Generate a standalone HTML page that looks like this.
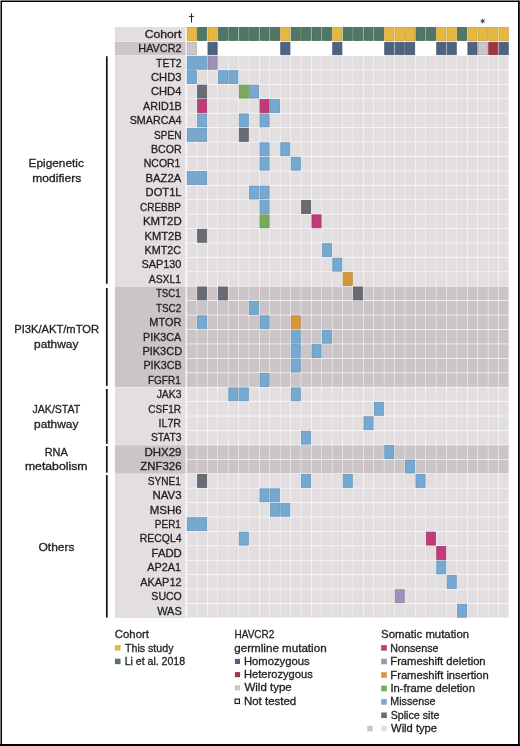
<!DOCTYPE html>
<html><head><meta charset="utf-8"><style>
html,body{margin:0;padding:0;background:#fff;width:520px;height:746px;overflow:hidden}
svg{display:block;will-change:transform}
text{font-family:"Liberation Sans",sans-serif;font-size:11.3px;fill:#231f20;stroke:#231f20;stroke-width:0.32px}
</style></head><body>
<svg width="520" height="746" viewBox="0 0 520 746">
<rect width="520" height="746" fill="#fff"/>
<rect x="114.9" y="27" width="70.7" height="14.5" fill="#e3dfe1"/>
<rect x="114.9" y="41.82" width="70.7" height="13.62" fill="#cbc5c8"/>
<rect x="114.9" y="55.84" width="70.7" height="230.42" fill="#e3dfe1"/>
<rect x="114.9" y="286.56" width="70.7" height="100.64" fill="#cbc5c8"/>
<rect x="114.9" y="387.5" width="70.7" height="57.38" fill="#e3dfe1"/>
<rect x="114.9" y="445.18" width="70.7" height="28.54" fill="#cbc5c8"/>
<rect x="114.9" y="474.02" width="70.7" height="143.9" fill="#e3dfe1"/>
<rect x="187.2" y="27.4" width="9.15" height="13" fill="#e6b741" stroke="#caa139" stroke-width="0.8"/>
<rect x="187.2" y="42.27" width="9.15" height="12.45" fill="#cbc5c8" stroke="#b2adb0" stroke-width="0.8"/>
<rect x="197.6" y="27.4" width="9.15" height="13" fill="#507664" stroke="#466758" stroke-width="0.8"/>
<rect x="207.99" y="27.4" width="9.15" height="13" fill="#e6b741" stroke="#caa139" stroke-width="0.8"/>
<rect x="207.99" y="42.27" width="9.15" height="12.45" fill="#4e6382" stroke="#445772" stroke-width="0.8"/>
<rect x="218.39" y="27.4" width="9.15" height="13" fill="#507664" stroke="#466758" stroke-width="0.8"/>
<rect x="228.79" y="27.4" width="9.15" height="13" fill="#507664" stroke="#466758" stroke-width="0.8"/>
<rect x="239.19" y="27.4" width="9.15" height="13" fill="#507664" stroke="#466758" stroke-width="0.8"/>
<rect x="249.58" y="27.4" width="9.15" height="13" fill="#507664" stroke="#466758" stroke-width="0.8"/>
<rect x="259.98" y="27.4" width="9.15" height="13" fill="#507664" stroke="#466758" stroke-width="0.8"/>
<rect x="270.38" y="27.4" width="9.15" height="13" fill="#507664" stroke="#466758" stroke-width="0.8"/>
<rect x="280.77" y="27.4" width="9.15" height="13" fill="#e6b741" stroke="#caa139" stroke-width="0.8"/>
<rect x="280.77" y="42.27" width="9.15" height="12.45" fill="#4e6382" stroke="#445772" stroke-width="0.8"/>
<rect x="291.17" y="27.4" width="9.15" height="13" fill="#507664" stroke="#466758" stroke-width="0.8"/>
<rect x="301.57" y="27.4" width="9.15" height="13" fill="#507664" stroke="#466758" stroke-width="0.8"/>
<rect x="311.96" y="27.4" width="9.15" height="13" fill="#507664" stroke="#466758" stroke-width="0.8"/>
<rect x="322.36" y="27.4" width="9.15" height="13" fill="#507664" stroke="#466758" stroke-width="0.8"/>
<rect x="332.76" y="27.4" width="9.15" height="13" fill="#e6b741" stroke="#caa139" stroke-width="0.8"/>
<rect x="332.76" y="42.27" width="9.15" height="12.45" fill="#4e6382" stroke="#445772" stroke-width="0.8"/>
<rect x="343.15" y="27.4" width="9.15" height="13" fill="#507664" stroke="#466758" stroke-width="0.8"/>
<rect x="353.55" y="27.4" width="9.15" height="13" fill="#507664" stroke="#466758" stroke-width="0.8"/>
<rect x="363.95" y="27.4" width="9.15" height="13" fill="#507664" stroke="#466758" stroke-width="0.8"/>
<rect x="374.35" y="27.4" width="9.15" height="13" fill="#507664" stroke="#466758" stroke-width="0.8"/>
<rect x="384.74" y="27.4" width="9.15" height="13" fill="#e6b741" stroke="#caa139" stroke-width="0.8"/>
<rect x="384.74" y="42.27" width="9.15" height="12.45" fill="#4e6382" stroke="#445772" stroke-width="0.8"/>
<rect x="395.14" y="27.4" width="9.15" height="13" fill="#e6b741" stroke="#caa139" stroke-width="0.8"/>
<rect x="395.14" y="42.27" width="9.15" height="12.45" fill="#4e6382" stroke="#445772" stroke-width="0.8"/>
<rect x="405.54" y="27.4" width="9.15" height="13" fill="#e6b741" stroke="#caa139" stroke-width="0.8"/>
<rect x="405.54" y="42.27" width="9.15" height="12.45" fill="#4e6382" stroke="#445772" stroke-width="0.8"/>
<rect x="415.93" y="27.4" width="9.15" height="13" fill="#507664" stroke="#466758" stroke-width="0.8"/>
<rect x="426.33" y="27.4" width="9.15" height="13" fill="#507664" stroke="#466758" stroke-width="0.8"/>
<rect x="436.73" y="27.4" width="9.15" height="13" fill="#e6b741" stroke="#caa139" stroke-width="0.8"/>
<rect x="436.73" y="42.27" width="9.15" height="12.45" fill="#4e6382" stroke="#445772" stroke-width="0.8"/>
<rect x="447.12" y="27.4" width="9.15" height="13" fill="#e6b741" stroke="#caa139" stroke-width="0.8"/>
<rect x="447.12" y="42.27" width="9.15" height="12.45" fill="#4e6382" stroke="#445772" stroke-width="0.8"/>
<rect x="457.52" y="27.4" width="9.15" height="13" fill="#507664" stroke="#466758" stroke-width="0.8"/>
<rect x="467.92" y="27.4" width="9.15" height="13" fill="#e6b741" stroke="#caa139" stroke-width="0.8"/>
<rect x="467.92" y="42.27" width="9.15" height="12.45" fill="#4e6382" stroke="#445772" stroke-width="0.8"/>
<rect x="478.32" y="27.4" width="9.15" height="13" fill="#e6b741" stroke="#caa139" stroke-width="0.8"/>
<rect x="478.32" y="42.27" width="9.15" height="12.45" fill="#cbc5c8" stroke="#b2adb0" stroke-width="0.8"/>
<rect x="488.71" y="27.4" width="9.15" height="13" fill="#e6b741" stroke="#caa139" stroke-width="0.8"/>
<rect x="488.71" y="42.27" width="9.15" height="12.45" fill="#a13543" stroke="#8d2e3a" stroke-width="0.8"/>
<rect x="499.11" y="27.4" width="9.15" height="13" fill="#e6b741" stroke="#caa139" stroke-width="0.8"/>
<rect x="499.11" y="42.27" width="9.15" height="12.45" fill="#4e6382" stroke="#445772" stroke-width="0.8"/>
<rect x="187.2" y="56.24" width="9.15" height="13" fill="#76a9d1" stroke="#6794b7" stroke-width="0.8"/>
<rect x="197.6" y="56.24" width="9.15" height="13" fill="#76a9d1" stroke="#6794b7" stroke-width="0.8"/>
<rect x="207.99" y="56.24" width="9.15" height="13" fill="#9c93b6" stroke="#8981a0" stroke-width="0.8"/>
<rect x="217.99" y="55.84" width="9.95" height="13.8" fill="#e3dfe1"/>
<rect x="228.39" y="55.84" width="9.95" height="13.8" fill="#e3dfe1"/>
<rect x="238.79" y="55.84" width="9.95" height="13.8" fill="#e3dfe1"/>
<rect x="249.18" y="55.84" width="9.95" height="13.8" fill="#e3dfe1"/>
<rect x="259.58" y="55.84" width="9.95" height="13.8" fill="#e3dfe1"/>
<rect x="269.98" y="55.84" width="9.95" height="13.8" fill="#e3dfe1"/>
<rect x="280.37" y="55.84" width="9.95" height="13.8" fill="#e3dfe1"/>
<rect x="290.77" y="55.84" width="9.95" height="13.8" fill="#e3dfe1"/>
<rect x="301.17" y="55.84" width="9.95" height="13.8" fill="#e3dfe1"/>
<rect x="311.56" y="55.84" width="9.95" height="13.8" fill="#e3dfe1"/>
<rect x="321.96" y="55.84" width="9.95" height="13.8" fill="#e3dfe1"/>
<rect x="332.36" y="55.84" width="9.95" height="13.8" fill="#e3dfe1"/>
<rect x="342.75" y="55.84" width="9.95" height="13.8" fill="#e3dfe1"/>
<rect x="353.15" y="55.84" width="9.95" height="13.8" fill="#e3dfe1"/>
<rect x="363.55" y="55.84" width="9.95" height="13.8" fill="#e3dfe1"/>
<rect x="373.95" y="55.84" width="9.95" height="13.8" fill="#e3dfe1"/>
<rect x="384.34" y="55.84" width="9.95" height="13.8" fill="#e3dfe1"/>
<rect x="394.74" y="55.84" width="9.95" height="13.8" fill="#e3dfe1"/>
<rect x="405.14" y="55.84" width="9.95" height="13.8" fill="#e3dfe1"/>
<rect x="415.53" y="55.84" width="9.95" height="13.8" fill="#e3dfe1"/>
<rect x="425.93" y="55.84" width="9.95" height="13.8" fill="#e3dfe1"/>
<rect x="436.33" y="55.84" width="9.95" height="13.8" fill="#e3dfe1"/>
<rect x="446.73" y="55.84" width="9.95" height="13.8" fill="#e3dfe1"/>
<rect x="457.12" y="55.84" width="9.95" height="13.8" fill="#e3dfe1"/>
<rect x="467.52" y="55.84" width="9.95" height="13.8" fill="#e3dfe1"/>
<rect x="477.92" y="55.84" width="9.95" height="13.8" fill="#e3dfe1"/>
<rect x="488.31" y="55.84" width="9.95" height="13.8" fill="#e3dfe1"/>
<rect x="498.71" y="55.84" width="9.95" height="13.8" fill="#e3dfe1"/>
<rect x="187.2" y="70.66" width="9.15" height="13" fill="#76a9d1" stroke="#6794b7" stroke-width="0.8"/>
<rect x="197.2" y="70.26" width="9.95" height="13.8" fill="#e3dfe1"/>
<rect x="207.59" y="70.26" width="9.95" height="13.8" fill="#e3dfe1"/>
<rect x="218.39" y="70.66" width="9.15" height="13" fill="#76a9d1" stroke="#6794b7" stroke-width="0.8"/>
<rect x="228.79" y="70.66" width="9.15" height="13" fill="#76a9d1" stroke="#6794b7" stroke-width="0.8"/>
<rect x="238.79" y="70.26" width="9.95" height="13.8" fill="#e3dfe1"/>
<rect x="249.18" y="70.26" width="9.95" height="13.8" fill="#e3dfe1"/>
<rect x="259.58" y="70.26" width="9.95" height="13.8" fill="#e3dfe1"/>
<rect x="269.98" y="70.26" width="9.95" height="13.8" fill="#e3dfe1"/>
<rect x="280.37" y="70.26" width="9.95" height="13.8" fill="#e3dfe1"/>
<rect x="290.77" y="70.26" width="9.95" height="13.8" fill="#e3dfe1"/>
<rect x="301.17" y="70.26" width="9.95" height="13.8" fill="#e3dfe1"/>
<rect x="311.56" y="70.26" width="9.95" height="13.8" fill="#e3dfe1"/>
<rect x="321.96" y="70.26" width="9.95" height="13.8" fill="#e3dfe1"/>
<rect x="332.36" y="70.26" width="9.95" height="13.8" fill="#e3dfe1"/>
<rect x="342.75" y="70.26" width="9.95" height="13.8" fill="#e3dfe1"/>
<rect x="353.15" y="70.26" width="9.95" height="13.8" fill="#e3dfe1"/>
<rect x="363.55" y="70.26" width="9.95" height="13.8" fill="#e3dfe1"/>
<rect x="373.95" y="70.26" width="9.95" height="13.8" fill="#e3dfe1"/>
<rect x="384.34" y="70.26" width="9.95" height="13.8" fill="#e3dfe1"/>
<rect x="394.74" y="70.26" width="9.95" height="13.8" fill="#e3dfe1"/>
<rect x="405.14" y="70.26" width="9.95" height="13.8" fill="#e3dfe1"/>
<rect x="415.53" y="70.26" width="9.95" height="13.8" fill="#e3dfe1"/>
<rect x="425.93" y="70.26" width="9.95" height="13.8" fill="#e3dfe1"/>
<rect x="436.33" y="70.26" width="9.95" height="13.8" fill="#e3dfe1"/>
<rect x="446.73" y="70.26" width="9.95" height="13.8" fill="#e3dfe1"/>
<rect x="457.12" y="70.26" width="9.95" height="13.8" fill="#e3dfe1"/>
<rect x="467.52" y="70.26" width="9.95" height="13.8" fill="#e3dfe1"/>
<rect x="477.92" y="70.26" width="9.95" height="13.8" fill="#e3dfe1"/>
<rect x="488.31" y="70.26" width="9.95" height="13.8" fill="#e3dfe1"/>
<rect x="498.71" y="70.26" width="9.95" height="13.8" fill="#e3dfe1"/>
<rect x="186.8" y="84.68" width="9.95" height="13.8" fill="#e3dfe1"/>
<rect x="197.6" y="85.08" width="9.15" height="13" fill="#686b74" stroke="#5b5e66" stroke-width="0.8"/>
<rect x="207.59" y="84.68" width="9.95" height="13.8" fill="#e3dfe1"/>
<rect x="217.99" y="84.68" width="9.95" height="13.8" fill="#e3dfe1"/>
<rect x="228.39" y="84.68" width="9.95" height="13.8" fill="#e3dfe1"/>
<rect x="239.19" y="85.08" width="9.15" height="13" fill="#7aa95b" stroke="#6b9450" stroke-width="0.8"/>
<rect x="249.58" y="85.08" width="9.15" height="13" fill="#76a9d1" stroke="#6794b7" stroke-width="0.8"/>
<rect x="259.58" y="84.68" width="9.95" height="13.8" fill="#e3dfe1"/>
<rect x="269.98" y="84.68" width="9.95" height="13.8" fill="#e3dfe1"/>
<rect x="280.37" y="84.68" width="9.95" height="13.8" fill="#e3dfe1"/>
<rect x="290.77" y="84.68" width="9.95" height="13.8" fill="#e3dfe1"/>
<rect x="301.17" y="84.68" width="9.95" height="13.8" fill="#e3dfe1"/>
<rect x="311.56" y="84.68" width="9.95" height="13.8" fill="#e3dfe1"/>
<rect x="321.96" y="84.68" width="9.95" height="13.8" fill="#e3dfe1"/>
<rect x="332.36" y="84.68" width="9.95" height="13.8" fill="#e3dfe1"/>
<rect x="342.75" y="84.68" width="9.95" height="13.8" fill="#e3dfe1"/>
<rect x="353.15" y="84.68" width="9.95" height="13.8" fill="#e3dfe1"/>
<rect x="363.55" y="84.68" width="9.95" height="13.8" fill="#e3dfe1"/>
<rect x="373.95" y="84.68" width="9.95" height="13.8" fill="#e3dfe1"/>
<rect x="384.34" y="84.68" width="9.95" height="13.8" fill="#e3dfe1"/>
<rect x="394.74" y="84.68" width="9.95" height="13.8" fill="#e3dfe1"/>
<rect x="405.14" y="84.68" width="9.95" height="13.8" fill="#e3dfe1"/>
<rect x="415.53" y="84.68" width="9.95" height="13.8" fill="#e3dfe1"/>
<rect x="425.93" y="84.68" width="9.95" height="13.8" fill="#e3dfe1"/>
<rect x="436.33" y="84.68" width="9.95" height="13.8" fill="#e3dfe1"/>
<rect x="446.73" y="84.68" width="9.95" height="13.8" fill="#e3dfe1"/>
<rect x="457.12" y="84.68" width="9.95" height="13.8" fill="#e3dfe1"/>
<rect x="467.52" y="84.68" width="9.95" height="13.8" fill="#e3dfe1"/>
<rect x="477.92" y="84.68" width="9.95" height="13.8" fill="#e3dfe1"/>
<rect x="488.31" y="84.68" width="9.95" height="13.8" fill="#e3dfe1"/>
<rect x="498.71" y="84.68" width="9.95" height="13.8" fill="#e3dfe1"/>
<rect x="186.8" y="99.1" width="9.95" height="13.8" fill="#e3dfe1"/>
<rect x="197.6" y="99.5" width="9.15" height="13" fill="#c13b7b" stroke="#a9336c" stroke-width="0.8"/>
<rect x="207.59" y="99.1" width="9.95" height="13.8" fill="#e3dfe1"/>
<rect x="217.99" y="99.1" width="9.95" height="13.8" fill="#e3dfe1"/>
<rect x="228.39" y="99.1" width="9.95" height="13.8" fill="#e3dfe1"/>
<rect x="238.79" y="99.1" width="9.95" height="13.8" fill="#e3dfe1"/>
<rect x="249.18" y="99.1" width="9.95" height="13.8" fill="#e3dfe1"/>
<rect x="259.98" y="99.5" width="9.15" height="13" fill="#c13b7b" stroke="#a9336c" stroke-width="0.8"/>
<rect x="270.38" y="99.5" width="9.15" height="13" fill="#76a9d1" stroke="#6794b7" stroke-width="0.8"/>
<rect x="280.37" y="99.1" width="9.95" height="13.8" fill="#e3dfe1"/>
<rect x="290.77" y="99.1" width="9.95" height="13.8" fill="#e3dfe1"/>
<rect x="301.17" y="99.1" width="9.95" height="13.8" fill="#e3dfe1"/>
<rect x="311.56" y="99.1" width="9.95" height="13.8" fill="#e3dfe1"/>
<rect x="321.96" y="99.1" width="9.95" height="13.8" fill="#e3dfe1"/>
<rect x="332.36" y="99.1" width="9.95" height="13.8" fill="#e3dfe1"/>
<rect x="342.75" y="99.1" width="9.95" height="13.8" fill="#e3dfe1"/>
<rect x="353.15" y="99.1" width="9.95" height="13.8" fill="#e3dfe1"/>
<rect x="363.55" y="99.1" width="9.95" height="13.8" fill="#e3dfe1"/>
<rect x="373.95" y="99.1" width="9.95" height="13.8" fill="#e3dfe1"/>
<rect x="384.34" y="99.1" width="9.95" height="13.8" fill="#e3dfe1"/>
<rect x="394.74" y="99.1" width="9.95" height="13.8" fill="#e3dfe1"/>
<rect x="405.14" y="99.1" width="9.95" height="13.8" fill="#e3dfe1"/>
<rect x="415.53" y="99.1" width="9.95" height="13.8" fill="#e3dfe1"/>
<rect x="425.93" y="99.1" width="9.95" height="13.8" fill="#e3dfe1"/>
<rect x="436.33" y="99.1" width="9.95" height="13.8" fill="#e3dfe1"/>
<rect x="446.73" y="99.1" width="9.95" height="13.8" fill="#e3dfe1"/>
<rect x="457.12" y="99.1" width="9.95" height="13.8" fill="#e3dfe1"/>
<rect x="467.52" y="99.1" width="9.95" height="13.8" fill="#e3dfe1"/>
<rect x="477.92" y="99.1" width="9.95" height="13.8" fill="#e3dfe1"/>
<rect x="488.31" y="99.1" width="9.95" height="13.8" fill="#e3dfe1"/>
<rect x="498.71" y="99.1" width="9.95" height="13.8" fill="#e3dfe1"/>
<rect x="186.8" y="113.52" width="9.95" height="13.8" fill="#e3dfe1"/>
<rect x="197.6" y="113.92" width="9.15" height="13" fill="#76a9d1" stroke="#6794b7" stroke-width="0.8"/>
<rect x="207.59" y="113.52" width="9.95" height="13.8" fill="#e3dfe1"/>
<rect x="217.99" y="113.52" width="9.95" height="13.8" fill="#e3dfe1"/>
<rect x="228.39" y="113.52" width="9.95" height="13.8" fill="#e3dfe1"/>
<rect x="239.19" y="113.92" width="9.15" height="13" fill="#76a9d1" stroke="#6794b7" stroke-width="0.8"/>
<rect x="249.18" y="113.52" width="9.95" height="13.8" fill="#e3dfe1"/>
<rect x="259.98" y="113.92" width="9.15" height="13" fill="#76a9d1" stroke="#6794b7" stroke-width="0.8"/>
<rect x="269.98" y="113.52" width="9.95" height="13.8" fill="#e3dfe1"/>
<rect x="280.37" y="113.52" width="9.95" height="13.8" fill="#e3dfe1"/>
<rect x="290.77" y="113.52" width="9.95" height="13.8" fill="#e3dfe1"/>
<rect x="301.17" y="113.52" width="9.95" height="13.8" fill="#e3dfe1"/>
<rect x="311.56" y="113.52" width="9.95" height="13.8" fill="#e3dfe1"/>
<rect x="321.96" y="113.52" width="9.95" height="13.8" fill="#e3dfe1"/>
<rect x="332.36" y="113.52" width="9.95" height="13.8" fill="#e3dfe1"/>
<rect x="342.75" y="113.52" width="9.95" height="13.8" fill="#e3dfe1"/>
<rect x="353.15" y="113.52" width="9.95" height="13.8" fill="#e3dfe1"/>
<rect x="363.55" y="113.52" width="9.95" height="13.8" fill="#e3dfe1"/>
<rect x="373.95" y="113.52" width="9.95" height="13.8" fill="#e3dfe1"/>
<rect x="384.34" y="113.52" width="9.95" height="13.8" fill="#e3dfe1"/>
<rect x="394.74" y="113.52" width="9.95" height="13.8" fill="#e3dfe1"/>
<rect x="405.14" y="113.52" width="9.95" height="13.8" fill="#e3dfe1"/>
<rect x="415.53" y="113.52" width="9.95" height="13.8" fill="#e3dfe1"/>
<rect x="425.93" y="113.52" width="9.95" height="13.8" fill="#e3dfe1"/>
<rect x="436.33" y="113.52" width="9.95" height="13.8" fill="#e3dfe1"/>
<rect x="446.73" y="113.52" width="9.95" height="13.8" fill="#e3dfe1"/>
<rect x="457.12" y="113.52" width="9.95" height="13.8" fill="#e3dfe1"/>
<rect x="467.52" y="113.52" width="9.95" height="13.8" fill="#e3dfe1"/>
<rect x="477.92" y="113.52" width="9.95" height="13.8" fill="#e3dfe1"/>
<rect x="488.31" y="113.52" width="9.95" height="13.8" fill="#e3dfe1"/>
<rect x="498.71" y="113.52" width="9.95" height="13.8" fill="#e3dfe1"/>
<rect x="187.2" y="128.34" width="9.15" height="13" fill="#76a9d1" stroke="#6794b7" stroke-width="0.8"/>
<rect x="197.6" y="128.34" width="9.15" height="13" fill="#76a9d1" stroke="#6794b7" stroke-width="0.8"/>
<rect x="207.59" y="127.94" width="9.95" height="13.8" fill="#e3dfe1"/>
<rect x="217.99" y="127.94" width="9.95" height="13.8" fill="#e3dfe1"/>
<rect x="228.39" y="127.94" width="9.95" height="13.8" fill="#e3dfe1"/>
<rect x="239.19" y="128.34" width="9.15" height="13" fill="#686b74" stroke="#5b5e66" stroke-width="0.8"/>
<rect x="249.18" y="127.94" width="9.95" height="13.8" fill="#e3dfe1"/>
<rect x="259.58" y="127.94" width="9.95" height="13.8" fill="#e3dfe1"/>
<rect x="269.98" y="127.94" width="9.95" height="13.8" fill="#e3dfe1"/>
<rect x="280.37" y="127.94" width="9.95" height="13.8" fill="#e3dfe1"/>
<rect x="290.77" y="127.94" width="9.95" height="13.8" fill="#e3dfe1"/>
<rect x="301.17" y="127.94" width="9.95" height="13.8" fill="#e3dfe1"/>
<rect x="311.56" y="127.94" width="9.95" height="13.8" fill="#e3dfe1"/>
<rect x="321.96" y="127.94" width="9.95" height="13.8" fill="#e3dfe1"/>
<rect x="332.36" y="127.94" width="9.95" height="13.8" fill="#e3dfe1"/>
<rect x="342.75" y="127.94" width="9.95" height="13.8" fill="#e3dfe1"/>
<rect x="353.15" y="127.94" width="9.95" height="13.8" fill="#e3dfe1"/>
<rect x="363.55" y="127.94" width="9.95" height="13.8" fill="#e3dfe1"/>
<rect x="373.95" y="127.94" width="9.95" height="13.8" fill="#e3dfe1"/>
<rect x="384.34" y="127.94" width="9.95" height="13.8" fill="#e3dfe1"/>
<rect x="394.74" y="127.94" width="9.95" height="13.8" fill="#e3dfe1"/>
<rect x="405.14" y="127.94" width="9.95" height="13.8" fill="#e3dfe1"/>
<rect x="415.53" y="127.94" width="9.95" height="13.8" fill="#e3dfe1"/>
<rect x="425.93" y="127.94" width="9.95" height="13.8" fill="#e3dfe1"/>
<rect x="436.33" y="127.94" width="9.95" height="13.8" fill="#e3dfe1"/>
<rect x="446.73" y="127.94" width="9.95" height="13.8" fill="#e3dfe1"/>
<rect x="457.12" y="127.94" width="9.95" height="13.8" fill="#e3dfe1"/>
<rect x="467.52" y="127.94" width="9.95" height="13.8" fill="#e3dfe1"/>
<rect x="477.92" y="127.94" width="9.95" height="13.8" fill="#e3dfe1"/>
<rect x="488.31" y="127.94" width="9.95" height="13.8" fill="#e3dfe1"/>
<rect x="498.71" y="127.94" width="9.95" height="13.8" fill="#e3dfe1"/>
<rect x="186.8" y="142.36" width="9.95" height="13.8" fill="#e3dfe1"/>
<rect x="197.2" y="142.36" width="9.95" height="13.8" fill="#e3dfe1"/>
<rect x="207.59" y="142.36" width="9.95" height="13.8" fill="#e3dfe1"/>
<rect x="217.99" y="142.36" width="9.95" height="13.8" fill="#e3dfe1"/>
<rect x="228.39" y="142.36" width="9.95" height="13.8" fill="#e3dfe1"/>
<rect x="238.79" y="142.36" width="9.95" height="13.8" fill="#e3dfe1"/>
<rect x="249.18" y="142.36" width="9.95" height="13.8" fill="#e3dfe1"/>
<rect x="259.98" y="142.76" width="9.15" height="13" fill="#76a9d1" stroke="#6794b7" stroke-width="0.8"/>
<rect x="269.98" y="142.36" width="9.95" height="13.8" fill="#e3dfe1"/>
<rect x="280.77" y="142.76" width="9.15" height="13" fill="#76a9d1" stroke="#6794b7" stroke-width="0.8"/>
<rect x="290.77" y="142.36" width="9.95" height="13.8" fill="#e3dfe1"/>
<rect x="301.17" y="142.36" width="9.95" height="13.8" fill="#e3dfe1"/>
<rect x="311.56" y="142.36" width="9.95" height="13.8" fill="#e3dfe1"/>
<rect x="321.96" y="142.36" width="9.95" height="13.8" fill="#e3dfe1"/>
<rect x="332.36" y="142.36" width="9.95" height="13.8" fill="#e3dfe1"/>
<rect x="342.75" y="142.36" width="9.95" height="13.8" fill="#e3dfe1"/>
<rect x="353.15" y="142.36" width="9.95" height="13.8" fill="#e3dfe1"/>
<rect x="363.55" y="142.36" width="9.95" height="13.8" fill="#e3dfe1"/>
<rect x="373.95" y="142.36" width="9.95" height="13.8" fill="#e3dfe1"/>
<rect x="384.34" y="142.36" width="9.95" height="13.8" fill="#e3dfe1"/>
<rect x="394.74" y="142.36" width="9.95" height="13.8" fill="#e3dfe1"/>
<rect x="405.14" y="142.36" width="9.95" height="13.8" fill="#e3dfe1"/>
<rect x="415.53" y="142.36" width="9.95" height="13.8" fill="#e3dfe1"/>
<rect x="425.93" y="142.36" width="9.95" height="13.8" fill="#e3dfe1"/>
<rect x="436.33" y="142.36" width="9.95" height="13.8" fill="#e3dfe1"/>
<rect x="446.73" y="142.36" width="9.95" height="13.8" fill="#e3dfe1"/>
<rect x="457.12" y="142.36" width="9.95" height="13.8" fill="#e3dfe1"/>
<rect x="467.52" y="142.36" width="9.95" height="13.8" fill="#e3dfe1"/>
<rect x="477.92" y="142.36" width="9.95" height="13.8" fill="#e3dfe1"/>
<rect x="488.31" y="142.36" width="9.95" height="13.8" fill="#e3dfe1"/>
<rect x="498.71" y="142.36" width="9.95" height="13.8" fill="#e3dfe1"/>
<rect x="186.8" y="156.78" width="9.95" height="13.8" fill="#e3dfe1"/>
<rect x="197.2" y="156.78" width="9.95" height="13.8" fill="#e3dfe1"/>
<rect x="207.59" y="156.78" width="9.95" height="13.8" fill="#e3dfe1"/>
<rect x="217.99" y="156.78" width="9.95" height="13.8" fill="#e3dfe1"/>
<rect x="228.39" y="156.78" width="9.95" height="13.8" fill="#e3dfe1"/>
<rect x="238.79" y="156.78" width="9.95" height="13.8" fill="#e3dfe1"/>
<rect x="249.18" y="156.78" width="9.95" height="13.8" fill="#e3dfe1"/>
<rect x="259.98" y="157.18" width="9.15" height="13" fill="#76a9d1" stroke="#6794b7" stroke-width="0.8"/>
<rect x="269.98" y="156.78" width="9.95" height="13.8" fill="#e3dfe1"/>
<rect x="280.37" y="156.78" width="9.95" height="13.8" fill="#e3dfe1"/>
<rect x="291.17" y="157.18" width="9.15" height="13" fill="#76a9d1" stroke="#6794b7" stroke-width="0.8"/>
<rect x="301.17" y="156.78" width="9.95" height="13.8" fill="#e3dfe1"/>
<rect x="311.56" y="156.78" width="9.95" height="13.8" fill="#e3dfe1"/>
<rect x="321.96" y="156.78" width="9.95" height="13.8" fill="#e3dfe1"/>
<rect x="332.36" y="156.78" width="9.95" height="13.8" fill="#e3dfe1"/>
<rect x="342.75" y="156.78" width="9.95" height="13.8" fill="#e3dfe1"/>
<rect x="353.15" y="156.78" width="9.95" height="13.8" fill="#e3dfe1"/>
<rect x="363.55" y="156.78" width="9.95" height="13.8" fill="#e3dfe1"/>
<rect x="373.95" y="156.78" width="9.95" height="13.8" fill="#e3dfe1"/>
<rect x="384.34" y="156.78" width="9.95" height="13.8" fill="#e3dfe1"/>
<rect x="394.74" y="156.78" width="9.95" height="13.8" fill="#e3dfe1"/>
<rect x="405.14" y="156.78" width="9.95" height="13.8" fill="#e3dfe1"/>
<rect x="415.53" y="156.78" width="9.95" height="13.8" fill="#e3dfe1"/>
<rect x="425.93" y="156.78" width="9.95" height="13.8" fill="#e3dfe1"/>
<rect x="436.33" y="156.78" width="9.95" height="13.8" fill="#e3dfe1"/>
<rect x="446.73" y="156.78" width="9.95" height="13.8" fill="#e3dfe1"/>
<rect x="457.12" y="156.78" width="9.95" height="13.8" fill="#e3dfe1"/>
<rect x="467.52" y="156.78" width="9.95" height="13.8" fill="#e3dfe1"/>
<rect x="477.92" y="156.78" width="9.95" height="13.8" fill="#e3dfe1"/>
<rect x="488.31" y="156.78" width="9.95" height="13.8" fill="#e3dfe1"/>
<rect x="498.71" y="156.78" width="9.95" height="13.8" fill="#e3dfe1"/>
<rect x="187.2" y="171.6" width="9.15" height="13" fill="#76a9d1" stroke="#6794b7" stroke-width="0.8"/>
<rect x="197.6" y="171.6" width="9.15" height="13" fill="#76a9d1" stroke="#6794b7" stroke-width="0.8"/>
<rect x="207.59" y="171.2" width="9.95" height="13.8" fill="#e3dfe1"/>
<rect x="217.99" y="171.2" width="9.95" height="13.8" fill="#e3dfe1"/>
<rect x="228.39" y="171.2" width="9.95" height="13.8" fill="#e3dfe1"/>
<rect x="238.79" y="171.2" width="9.95" height="13.8" fill="#e3dfe1"/>
<rect x="249.18" y="171.2" width="9.95" height="13.8" fill="#e3dfe1"/>
<rect x="259.58" y="171.2" width="9.95" height="13.8" fill="#e3dfe1"/>
<rect x="269.98" y="171.2" width="9.95" height="13.8" fill="#e3dfe1"/>
<rect x="280.37" y="171.2" width="9.95" height="13.8" fill="#e3dfe1"/>
<rect x="290.77" y="171.2" width="9.95" height="13.8" fill="#e3dfe1"/>
<rect x="301.17" y="171.2" width="9.95" height="13.8" fill="#e3dfe1"/>
<rect x="311.56" y="171.2" width="9.95" height="13.8" fill="#e3dfe1"/>
<rect x="321.96" y="171.2" width="9.95" height="13.8" fill="#e3dfe1"/>
<rect x="332.36" y="171.2" width="9.95" height="13.8" fill="#e3dfe1"/>
<rect x="342.75" y="171.2" width="9.95" height="13.8" fill="#e3dfe1"/>
<rect x="353.15" y="171.2" width="9.95" height="13.8" fill="#e3dfe1"/>
<rect x="363.55" y="171.2" width="9.95" height="13.8" fill="#e3dfe1"/>
<rect x="373.95" y="171.2" width="9.95" height="13.8" fill="#e3dfe1"/>
<rect x="384.34" y="171.2" width="9.95" height="13.8" fill="#e3dfe1"/>
<rect x="394.74" y="171.2" width="9.95" height="13.8" fill="#e3dfe1"/>
<rect x="405.14" y="171.2" width="9.95" height="13.8" fill="#e3dfe1"/>
<rect x="415.53" y="171.2" width="9.95" height="13.8" fill="#e3dfe1"/>
<rect x="425.93" y="171.2" width="9.95" height="13.8" fill="#e3dfe1"/>
<rect x="436.33" y="171.2" width="9.95" height="13.8" fill="#e3dfe1"/>
<rect x="446.73" y="171.2" width="9.95" height="13.8" fill="#e3dfe1"/>
<rect x="457.12" y="171.2" width="9.95" height="13.8" fill="#e3dfe1"/>
<rect x="467.52" y="171.2" width="9.95" height="13.8" fill="#e3dfe1"/>
<rect x="477.92" y="171.2" width="9.95" height="13.8" fill="#e3dfe1"/>
<rect x="488.31" y="171.2" width="9.95" height="13.8" fill="#e3dfe1"/>
<rect x="498.71" y="171.2" width="9.95" height="13.8" fill="#e3dfe1"/>
<rect x="186.8" y="185.62" width="9.95" height="13.8" fill="#e3dfe1"/>
<rect x="197.2" y="185.62" width="9.95" height="13.8" fill="#e3dfe1"/>
<rect x="207.59" y="185.62" width="9.95" height="13.8" fill="#e3dfe1"/>
<rect x="217.99" y="185.62" width="9.95" height="13.8" fill="#e3dfe1"/>
<rect x="228.39" y="185.62" width="9.95" height="13.8" fill="#e3dfe1"/>
<rect x="238.79" y="185.62" width="9.95" height="13.8" fill="#e3dfe1"/>
<rect x="249.58" y="186.02" width="9.15" height="13" fill="#76a9d1" stroke="#6794b7" stroke-width="0.8"/>
<rect x="259.98" y="186.02" width="9.15" height="13" fill="#76a9d1" stroke="#6794b7" stroke-width="0.8"/>
<rect x="269.98" y="185.62" width="9.95" height="13.8" fill="#e3dfe1"/>
<rect x="280.37" y="185.62" width="9.95" height="13.8" fill="#e3dfe1"/>
<rect x="290.77" y="185.62" width="9.95" height="13.8" fill="#e3dfe1"/>
<rect x="301.17" y="185.62" width="9.95" height="13.8" fill="#e3dfe1"/>
<rect x="311.56" y="185.62" width="9.95" height="13.8" fill="#e3dfe1"/>
<rect x="321.96" y="185.62" width="9.95" height="13.8" fill="#e3dfe1"/>
<rect x="332.36" y="185.62" width="9.95" height="13.8" fill="#e3dfe1"/>
<rect x="342.75" y="185.62" width="9.95" height="13.8" fill="#e3dfe1"/>
<rect x="353.15" y="185.62" width="9.95" height="13.8" fill="#e3dfe1"/>
<rect x="363.55" y="185.62" width="9.95" height="13.8" fill="#e3dfe1"/>
<rect x="373.95" y="185.62" width="9.95" height="13.8" fill="#e3dfe1"/>
<rect x="384.34" y="185.62" width="9.95" height="13.8" fill="#e3dfe1"/>
<rect x="394.74" y="185.62" width="9.95" height="13.8" fill="#e3dfe1"/>
<rect x="405.14" y="185.62" width="9.95" height="13.8" fill="#e3dfe1"/>
<rect x="415.53" y="185.62" width="9.95" height="13.8" fill="#e3dfe1"/>
<rect x="425.93" y="185.62" width="9.95" height="13.8" fill="#e3dfe1"/>
<rect x="436.33" y="185.62" width="9.95" height="13.8" fill="#e3dfe1"/>
<rect x="446.73" y="185.62" width="9.95" height="13.8" fill="#e3dfe1"/>
<rect x="457.12" y="185.62" width="9.95" height="13.8" fill="#e3dfe1"/>
<rect x="467.52" y="185.62" width="9.95" height="13.8" fill="#e3dfe1"/>
<rect x="477.92" y="185.62" width="9.95" height="13.8" fill="#e3dfe1"/>
<rect x="488.31" y="185.62" width="9.95" height="13.8" fill="#e3dfe1"/>
<rect x="498.71" y="185.62" width="9.95" height="13.8" fill="#e3dfe1"/>
<rect x="186.8" y="200.04" width="9.95" height="13.8" fill="#e3dfe1"/>
<rect x="197.2" y="200.04" width="9.95" height="13.8" fill="#e3dfe1"/>
<rect x="207.59" y="200.04" width="9.95" height="13.8" fill="#e3dfe1"/>
<rect x="217.99" y="200.04" width="9.95" height="13.8" fill="#e3dfe1"/>
<rect x="228.39" y="200.04" width="9.95" height="13.8" fill="#e3dfe1"/>
<rect x="238.79" y="200.04" width="9.95" height="13.8" fill="#e3dfe1"/>
<rect x="249.18" y="200.04" width="9.95" height="13.8" fill="#e3dfe1"/>
<rect x="259.98" y="200.44" width="9.15" height="13" fill="#76a9d1" stroke="#6794b7" stroke-width="0.8"/>
<rect x="269.98" y="200.04" width="9.95" height="13.8" fill="#e3dfe1"/>
<rect x="280.37" y="200.04" width="9.95" height="13.8" fill="#e3dfe1"/>
<rect x="290.77" y="200.04" width="9.95" height="13.8" fill="#e3dfe1"/>
<rect x="301.57" y="200.44" width="9.15" height="13" fill="#686b74" stroke="#5b5e66" stroke-width="0.8"/>
<rect x="311.56" y="200.04" width="9.95" height="13.8" fill="#e3dfe1"/>
<rect x="321.96" y="200.04" width="9.95" height="13.8" fill="#e3dfe1"/>
<rect x="332.36" y="200.04" width="9.95" height="13.8" fill="#e3dfe1"/>
<rect x="342.75" y="200.04" width="9.95" height="13.8" fill="#e3dfe1"/>
<rect x="353.15" y="200.04" width="9.95" height="13.8" fill="#e3dfe1"/>
<rect x="363.55" y="200.04" width="9.95" height="13.8" fill="#e3dfe1"/>
<rect x="373.95" y="200.04" width="9.95" height="13.8" fill="#e3dfe1"/>
<rect x="384.34" y="200.04" width="9.95" height="13.8" fill="#e3dfe1"/>
<rect x="394.74" y="200.04" width="9.95" height="13.8" fill="#e3dfe1"/>
<rect x="405.14" y="200.04" width="9.95" height="13.8" fill="#e3dfe1"/>
<rect x="415.53" y="200.04" width="9.95" height="13.8" fill="#e3dfe1"/>
<rect x="425.93" y="200.04" width="9.95" height="13.8" fill="#e3dfe1"/>
<rect x="436.33" y="200.04" width="9.95" height="13.8" fill="#e3dfe1"/>
<rect x="446.73" y="200.04" width="9.95" height="13.8" fill="#e3dfe1"/>
<rect x="457.12" y="200.04" width="9.95" height="13.8" fill="#e3dfe1"/>
<rect x="467.52" y="200.04" width="9.95" height="13.8" fill="#e3dfe1"/>
<rect x="477.92" y="200.04" width="9.95" height="13.8" fill="#e3dfe1"/>
<rect x="488.31" y="200.04" width="9.95" height="13.8" fill="#e3dfe1"/>
<rect x="498.71" y="200.04" width="9.95" height="13.8" fill="#e3dfe1"/>
<rect x="186.8" y="214.46" width="9.95" height="13.8" fill="#e3dfe1"/>
<rect x="197.2" y="214.46" width="9.95" height="13.8" fill="#e3dfe1"/>
<rect x="207.59" y="214.46" width="9.95" height="13.8" fill="#e3dfe1"/>
<rect x="217.99" y="214.46" width="9.95" height="13.8" fill="#e3dfe1"/>
<rect x="228.39" y="214.46" width="9.95" height="13.8" fill="#e3dfe1"/>
<rect x="238.79" y="214.46" width="9.95" height="13.8" fill="#e3dfe1"/>
<rect x="249.18" y="214.46" width="9.95" height="13.8" fill="#e3dfe1"/>
<rect x="259.98" y="214.86" width="9.15" height="13" fill="#7aa95b" stroke="#6b9450" stroke-width="0.8"/>
<rect x="269.98" y="214.46" width="9.95" height="13.8" fill="#e3dfe1"/>
<rect x="280.37" y="214.46" width="9.95" height="13.8" fill="#e3dfe1"/>
<rect x="290.77" y="214.46" width="9.95" height="13.8" fill="#e3dfe1"/>
<rect x="301.17" y="214.46" width="9.95" height="13.8" fill="#e3dfe1"/>
<rect x="311.96" y="214.86" width="9.15" height="13" fill="#c13b7b" stroke="#a9336c" stroke-width="0.8"/>
<rect x="321.96" y="214.46" width="9.95" height="13.8" fill="#e3dfe1"/>
<rect x="332.36" y="214.46" width="9.95" height="13.8" fill="#e3dfe1"/>
<rect x="342.75" y="214.46" width="9.95" height="13.8" fill="#e3dfe1"/>
<rect x="353.15" y="214.46" width="9.95" height="13.8" fill="#e3dfe1"/>
<rect x="363.55" y="214.46" width="9.95" height="13.8" fill="#e3dfe1"/>
<rect x="373.95" y="214.46" width="9.95" height="13.8" fill="#e3dfe1"/>
<rect x="384.34" y="214.46" width="9.95" height="13.8" fill="#e3dfe1"/>
<rect x="394.74" y="214.46" width="9.95" height="13.8" fill="#e3dfe1"/>
<rect x="405.14" y="214.46" width="9.95" height="13.8" fill="#e3dfe1"/>
<rect x="415.53" y="214.46" width="9.95" height="13.8" fill="#e3dfe1"/>
<rect x="425.93" y="214.46" width="9.95" height="13.8" fill="#e3dfe1"/>
<rect x="436.33" y="214.46" width="9.95" height="13.8" fill="#e3dfe1"/>
<rect x="446.73" y="214.46" width="9.95" height="13.8" fill="#e3dfe1"/>
<rect x="457.12" y="214.46" width="9.95" height="13.8" fill="#e3dfe1"/>
<rect x="467.52" y="214.46" width="9.95" height="13.8" fill="#e3dfe1"/>
<rect x="477.92" y="214.46" width="9.95" height="13.8" fill="#e3dfe1"/>
<rect x="488.31" y="214.46" width="9.95" height="13.8" fill="#e3dfe1"/>
<rect x="498.71" y="214.46" width="9.95" height="13.8" fill="#e3dfe1"/>
<rect x="186.8" y="228.88" width="9.95" height="13.8" fill="#e3dfe1"/>
<rect x="197.6" y="229.28" width="9.15" height="13" fill="#686b74" stroke="#5b5e66" stroke-width="0.8"/>
<rect x="207.59" y="228.88" width="9.95" height="13.8" fill="#e3dfe1"/>
<rect x="217.99" y="228.88" width="9.95" height="13.8" fill="#e3dfe1"/>
<rect x="228.39" y="228.88" width="9.95" height="13.8" fill="#e3dfe1"/>
<rect x="238.79" y="228.88" width="9.95" height="13.8" fill="#e3dfe1"/>
<rect x="249.18" y="228.88" width="9.95" height="13.8" fill="#e3dfe1"/>
<rect x="259.58" y="228.88" width="9.95" height="13.8" fill="#e3dfe1"/>
<rect x="269.98" y="228.88" width="9.95" height="13.8" fill="#e3dfe1"/>
<rect x="280.37" y="228.88" width="9.95" height="13.8" fill="#e3dfe1"/>
<rect x="290.77" y="228.88" width="9.95" height="13.8" fill="#e3dfe1"/>
<rect x="301.17" y="228.88" width="9.95" height="13.8" fill="#e3dfe1"/>
<rect x="311.56" y="228.88" width="9.95" height="13.8" fill="#e3dfe1"/>
<rect x="321.96" y="228.88" width="9.95" height="13.8" fill="#e3dfe1"/>
<rect x="332.36" y="228.88" width="9.95" height="13.8" fill="#e3dfe1"/>
<rect x="342.75" y="228.88" width="9.95" height="13.8" fill="#e3dfe1"/>
<rect x="353.15" y="228.88" width="9.95" height="13.8" fill="#e3dfe1"/>
<rect x="363.55" y="228.88" width="9.95" height="13.8" fill="#e3dfe1"/>
<rect x="373.95" y="228.88" width="9.95" height="13.8" fill="#e3dfe1"/>
<rect x="384.34" y="228.88" width="9.95" height="13.8" fill="#e3dfe1"/>
<rect x="394.74" y="228.88" width="9.95" height="13.8" fill="#e3dfe1"/>
<rect x="405.14" y="228.88" width="9.95" height="13.8" fill="#e3dfe1"/>
<rect x="415.53" y="228.88" width="9.95" height="13.8" fill="#e3dfe1"/>
<rect x="425.93" y="228.88" width="9.95" height="13.8" fill="#e3dfe1"/>
<rect x="436.33" y="228.88" width="9.95" height="13.8" fill="#e3dfe1"/>
<rect x="446.73" y="228.88" width="9.95" height="13.8" fill="#e3dfe1"/>
<rect x="457.12" y="228.88" width="9.95" height="13.8" fill="#e3dfe1"/>
<rect x="467.52" y="228.88" width="9.95" height="13.8" fill="#e3dfe1"/>
<rect x="477.92" y="228.88" width="9.95" height="13.8" fill="#e3dfe1"/>
<rect x="488.31" y="228.88" width="9.95" height="13.8" fill="#e3dfe1"/>
<rect x="498.71" y="228.88" width="9.95" height="13.8" fill="#e3dfe1"/>
<rect x="186.8" y="243.3" width="9.95" height="13.8" fill="#e3dfe1"/>
<rect x="197.2" y="243.3" width="9.95" height="13.8" fill="#e3dfe1"/>
<rect x="207.59" y="243.3" width="9.95" height="13.8" fill="#e3dfe1"/>
<rect x="217.99" y="243.3" width="9.95" height="13.8" fill="#e3dfe1"/>
<rect x="228.39" y="243.3" width="9.95" height="13.8" fill="#e3dfe1"/>
<rect x="238.79" y="243.3" width="9.95" height="13.8" fill="#e3dfe1"/>
<rect x="249.18" y="243.3" width="9.95" height="13.8" fill="#e3dfe1"/>
<rect x="259.58" y="243.3" width="9.95" height="13.8" fill="#e3dfe1"/>
<rect x="269.98" y="243.3" width="9.95" height="13.8" fill="#e3dfe1"/>
<rect x="280.37" y="243.3" width="9.95" height="13.8" fill="#e3dfe1"/>
<rect x="290.77" y="243.3" width="9.95" height="13.8" fill="#e3dfe1"/>
<rect x="301.17" y="243.3" width="9.95" height="13.8" fill="#e3dfe1"/>
<rect x="311.56" y="243.3" width="9.95" height="13.8" fill="#e3dfe1"/>
<rect x="322.36" y="243.7" width="9.15" height="13" fill="#76a9d1" stroke="#6794b7" stroke-width="0.8"/>
<rect x="332.36" y="243.3" width="9.95" height="13.8" fill="#e3dfe1"/>
<rect x="342.75" y="243.3" width="9.95" height="13.8" fill="#e3dfe1"/>
<rect x="353.15" y="243.3" width="9.95" height="13.8" fill="#e3dfe1"/>
<rect x="363.55" y="243.3" width="9.95" height="13.8" fill="#e3dfe1"/>
<rect x="373.95" y="243.3" width="9.95" height="13.8" fill="#e3dfe1"/>
<rect x="384.34" y="243.3" width="9.95" height="13.8" fill="#e3dfe1"/>
<rect x="394.74" y="243.3" width="9.95" height="13.8" fill="#e3dfe1"/>
<rect x="405.14" y="243.3" width="9.95" height="13.8" fill="#e3dfe1"/>
<rect x="415.53" y="243.3" width="9.95" height="13.8" fill="#e3dfe1"/>
<rect x="425.93" y="243.3" width="9.95" height="13.8" fill="#e3dfe1"/>
<rect x="436.33" y="243.3" width="9.95" height="13.8" fill="#e3dfe1"/>
<rect x="446.73" y="243.3" width="9.95" height="13.8" fill="#e3dfe1"/>
<rect x="457.12" y="243.3" width="9.95" height="13.8" fill="#e3dfe1"/>
<rect x="467.52" y="243.3" width="9.95" height="13.8" fill="#e3dfe1"/>
<rect x="477.92" y="243.3" width="9.95" height="13.8" fill="#e3dfe1"/>
<rect x="488.31" y="243.3" width="9.95" height="13.8" fill="#e3dfe1"/>
<rect x="498.71" y="243.3" width="9.95" height="13.8" fill="#e3dfe1"/>
<rect x="186.8" y="257.72" width="9.95" height="13.8" fill="#e3dfe1"/>
<rect x="197.2" y="257.72" width="9.95" height="13.8" fill="#e3dfe1"/>
<rect x="207.59" y="257.72" width="9.95" height="13.8" fill="#e3dfe1"/>
<rect x="217.99" y="257.72" width="9.95" height="13.8" fill="#e3dfe1"/>
<rect x="228.39" y="257.72" width="9.95" height="13.8" fill="#e3dfe1"/>
<rect x="238.79" y="257.72" width="9.95" height="13.8" fill="#e3dfe1"/>
<rect x="249.18" y="257.72" width="9.95" height="13.8" fill="#e3dfe1"/>
<rect x="259.58" y="257.72" width="9.95" height="13.8" fill="#e3dfe1"/>
<rect x="269.98" y="257.72" width="9.95" height="13.8" fill="#e3dfe1"/>
<rect x="280.37" y="257.72" width="9.95" height="13.8" fill="#e3dfe1"/>
<rect x="290.77" y="257.72" width="9.95" height="13.8" fill="#e3dfe1"/>
<rect x="301.17" y="257.72" width="9.95" height="13.8" fill="#e3dfe1"/>
<rect x="311.56" y="257.72" width="9.95" height="13.8" fill="#e3dfe1"/>
<rect x="321.96" y="257.72" width="9.95" height="13.8" fill="#e3dfe1"/>
<rect x="332.76" y="258.12" width="9.15" height="13" fill="#76a9d1" stroke="#6794b7" stroke-width="0.8"/>
<rect x="342.75" y="257.72" width="9.95" height="13.8" fill="#e3dfe1"/>
<rect x="353.15" y="257.72" width="9.95" height="13.8" fill="#e3dfe1"/>
<rect x="363.55" y="257.72" width="9.95" height="13.8" fill="#e3dfe1"/>
<rect x="373.95" y="257.72" width="9.95" height="13.8" fill="#e3dfe1"/>
<rect x="384.34" y="257.72" width="9.95" height="13.8" fill="#e3dfe1"/>
<rect x="394.74" y="257.72" width="9.95" height="13.8" fill="#e3dfe1"/>
<rect x="405.14" y="257.72" width="9.95" height="13.8" fill="#e3dfe1"/>
<rect x="415.53" y="257.72" width="9.95" height="13.8" fill="#e3dfe1"/>
<rect x="425.93" y="257.72" width="9.95" height="13.8" fill="#e3dfe1"/>
<rect x="436.33" y="257.72" width="9.95" height="13.8" fill="#e3dfe1"/>
<rect x="446.73" y="257.72" width="9.95" height="13.8" fill="#e3dfe1"/>
<rect x="457.12" y="257.72" width="9.95" height="13.8" fill="#e3dfe1"/>
<rect x="467.52" y="257.72" width="9.95" height="13.8" fill="#e3dfe1"/>
<rect x="477.92" y="257.72" width="9.95" height="13.8" fill="#e3dfe1"/>
<rect x="488.31" y="257.72" width="9.95" height="13.8" fill="#e3dfe1"/>
<rect x="498.71" y="257.72" width="9.95" height="13.8" fill="#e3dfe1"/>
<rect x="186.8" y="272.14" width="9.95" height="13.8" fill="#e3dfe1"/>
<rect x="197.2" y="272.14" width="9.95" height="13.8" fill="#e3dfe1"/>
<rect x="207.59" y="272.14" width="9.95" height="13.8" fill="#e3dfe1"/>
<rect x="217.99" y="272.14" width="9.95" height="13.8" fill="#e3dfe1"/>
<rect x="228.39" y="272.14" width="9.95" height="13.8" fill="#e3dfe1"/>
<rect x="238.79" y="272.14" width="9.95" height="13.8" fill="#e3dfe1"/>
<rect x="249.18" y="272.14" width="9.95" height="13.8" fill="#e3dfe1"/>
<rect x="259.58" y="272.14" width="9.95" height="13.8" fill="#e3dfe1"/>
<rect x="269.98" y="272.14" width="9.95" height="13.8" fill="#e3dfe1"/>
<rect x="280.37" y="272.14" width="9.95" height="13.8" fill="#e3dfe1"/>
<rect x="290.77" y="272.14" width="9.95" height="13.8" fill="#e3dfe1"/>
<rect x="301.17" y="272.14" width="9.95" height="13.8" fill="#e3dfe1"/>
<rect x="311.56" y="272.14" width="9.95" height="13.8" fill="#e3dfe1"/>
<rect x="321.96" y="272.14" width="9.95" height="13.8" fill="#e3dfe1"/>
<rect x="332.36" y="272.14" width="9.95" height="13.8" fill="#e3dfe1"/>
<rect x="343.15" y="272.54" width="9.15" height="13" fill="#d6963d" stroke="#bc8435" stroke-width="0.8"/>
<rect x="353.15" y="272.14" width="9.95" height="13.8" fill="#e3dfe1"/>
<rect x="363.55" y="272.14" width="9.95" height="13.8" fill="#e3dfe1"/>
<rect x="373.95" y="272.14" width="9.95" height="13.8" fill="#e3dfe1"/>
<rect x="384.34" y="272.14" width="9.95" height="13.8" fill="#e3dfe1"/>
<rect x="394.74" y="272.14" width="9.95" height="13.8" fill="#e3dfe1"/>
<rect x="405.14" y="272.14" width="9.95" height="13.8" fill="#e3dfe1"/>
<rect x="415.53" y="272.14" width="9.95" height="13.8" fill="#e3dfe1"/>
<rect x="425.93" y="272.14" width="9.95" height="13.8" fill="#e3dfe1"/>
<rect x="436.33" y="272.14" width="9.95" height="13.8" fill="#e3dfe1"/>
<rect x="446.73" y="272.14" width="9.95" height="13.8" fill="#e3dfe1"/>
<rect x="457.12" y="272.14" width="9.95" height="13.8" fill="#e3dfe1"/>
<rect x="467.52" y="272.14" width="9.95" height="13.8" fill="#e3dfe1"/>
<rect x="477.92" y="272.14" width="9.95" height="13.8" fill="#e3dfe1"/>
<rect x="488.31" y="272.14" width="9.95" height="13.8" fill="#e3dfe1"/>
<rect x="498.71" y="272.14" width="9.95" height="13.8" fill="#e3dfe1"/>
<rect x="186.8" y="286.56" width="9.95" height="13.8" fill="#cbc5c8"/>
<rect x="197.6" y="286.96" width="9.15" height="13" fill="#686b74" stroke="#5b5e66" stroke-width="0.8"/>
<rect x="207.59" y="286.56" width="9.95" height="13.8" fill="#cbc5c8"/>
<rect x="218.39" y="286.96" width="9.15" height="13" fill="#686b74" stroke="#5b5e66" stroke-width="0.8"/>
<rect x="228.39" y="286.56" width="9.95" height="13.8" fill="#cbc5c8"/>
<rect x="238.79" y="286.56" width="9.95" height="13.8" fill="#cbc5c8"/>
<rect x="249.18" y="286.56" width="9.95" height="13.8" fill="#cbc5c8"/>
<rect x="259.58" y="286.56" width="9.95" height="13.8" fill="#cbc5c8"/>
<rect x="269.98" y="286.56" width="9.95" height="13.8" fill="#cbc5c8"/>
<rect x="280.37" y="286.56" width="9.95" height="13.8" fill="#cbc5c8"/>
<rect x="290.77" y="286.56" width="9.95" height="13.8" fill="#cbc5c8"/>
<rect x="301.17" y="286.56" width="9.95" height="13.8" fill="#cbc5c8"/>
<rect x="311.56" y="286.56" width="9.95" height="13.8" fill="#cbc5c8"/>
<rect x="321.96" y="286.56" width="9.95" height="13.8" fill="#cbc5c8"/>
<rect x="332.36" y="286.56" width="9.95" height="13.8" fill="#cbc5c8"/>
<rect x="342.75" y="286.56" width="9.95" height="13.8" fill="#cbc5c8"/>
<rect x="353.55" y="286.96" width="9.15" height="13" fill="#686b74" stroke="#5b5e66" stroke-width="0.8"/>
<rect x="363.55" y="286.56" width="9.95" height="13.8" fill="#cbc5c8"/>
<rect x="373.95" y="286.56" width="9.95" height="13.8" fill="#cbc5c8"/>
<rect x="384.34" y="286.56" width="9.95" height="13.8" fill="#cbc5c8"/>
<rect x="394.74" y="286.56" width="9.95" height="13.8" fill="#cbc5c8"/>
<rect x="405.14" y="286.56" width="9.95" height="13.8" fill="#cbc5c8"/>
<rect x="415.53" y="286.56" width="9.95" height="13.8" fill="#cbc5c8"/>
<rect x="425.93" y="286.56" width="9.95" height="13.8" fill="#cbc5c8"/>
<rect x="436.33" y="286.56" width="9.95" height="13.8" fill="#cbc5c8"/>
<rect x="446.73" y="286.56" width="9.95" height="13.8" fill="#cbc5c8"/>
<rect x="457.12" y="286.56" width="9.95" height="13.8" fill="#cbc5c8"/>
<rect x="467.52" y="286.56" width="9.95" height="13.8" fill="#cbc5c8"/>
<rect x="477.92" y="286.56" width="9.95" height="13.8" fill="#cbc5c8"/>
<rect x="488.31" y="286.56" width="9.95" height="13.8" fill="#cbc5c8"/>
<rect x="498.71" y="286.56" width="9.95" height="13.8" fill="#cbc5c8"/>
<rect x="186.8" y="300.98" width="9.95" height="13.8" fill="#cbc5c8"/>
<rect x="197.2" y="300.98" width="9.95" height="13.8" fill="#cbc5c8"/>
<rect x="207.59" y="300.98" width="9.95" height="13.8" fill="#cbc5c8"/>
<rect x="217.99" y="300.98" width="9.95" height="13.8" fill="#cbc5c8"/>
<rect x="228.39" y="300.98" width="9.95" height="13.8" fill="#cbc5c8"/>
<rect x="238.79" y="300.98" width="9.95" height="13.8" fill="#cbc5c8"/>
<rect x="249.58" y="301.38" width="9.15" height="13" fill="#76a9d1" stroke="#6794b7" stroke-width="0.8"/>
<rect x="259.58" y="300.98" width="9.95" height="13.8" fill="#cbc5c8"/>
<rect x="269.98" y="300.98" width="9.95" height="13.8" fill="#cbc5c8"/>
<rect x="280.37" y="300.98" width="9.95" height="13.8" fill="#cbc5c8"/>
<rect x="290.77" y="300.98" width="9.95" height="13.8" fill="#cbc5c8"/>
<rect x="301.17" y="300.98" width="9.95" height="13.8" fill="#cbc5c8"/>
<rect x="311.56" y="300.98" width="9.95" height="13.8" fill="#cbc5c8"/>
<rect x="321.96" y="300.98" width="9.95" height="13.8" fill="#cbc5c8"/>
<rect x="332.36" y="300.98" width="9.95" height="13.8" fill="#cbc5c8"/>
<rect x="342.75" y="300.98" width="9.95" height="13.8" fill="#cbc5c8"/>
<rect x="353.15" y="300.98" width="9.95" height="13.8" fill="#cbc5c8"/>
<rect x="363.55" y="300.98" width="9.95" height="13.8" fill="#cbc5c8"/>
<rect x="373.95" y="300.98" width="9.95" height="13.8" fill="#cbc5c8"/>
<rect x="384.34" y="300.98" width="9.95" height="13.8" fill="#cbc5c8"/>
<rect x="394.74" y="300.98" width="9.95" height="13.8" fill="#cbc5c8"/>
<rect x="405.14" y="300.98" width="9.95" height="13.8" fill="#cbc5c8"/>
<rect x="415.53" y="300.98" width="9.95" height="13.8" fill="#cbc5c8"/>
<rect x="425.93" y="300.98" width="9.95" height="13.8" fill="#cbc5c8"/>
<rect x="436.33" y="300.98" width="9.95" height="13.8" fill="#cbc5c8"/>
<rect x="446.73" y="300.98" width="9.95" height="13.8" fill="#cbc5c8"/>
<rect x="457.12" y="300.98" width="9.95" height="13.8" fill="#cbc5c8"/>
<rect x="467.52" y="300.98" width="9.95" height="13.8" fill="#cbc5c8"/>
<rect x="477.92" y="300.98" width="9.95" height="13.8" fill="#cbc5c8"/>
<rect x="488.31" y="300.98" width="9.95" height="13.8" fill="#cbc5c8"/>
<rect x="498.71" y="300.98" width="9.95" height="13.8" fill="#cbc5c8"/>
<rect x="186.8" y="315.4" width="9.95" height="13.8" fill="#cbc5c8"/>
<rect x="197.6" y="315.8" width="9.15" height="13" fill="#76a9d1" stroke="#6794b7" stroke-width="0.8"/>
<rect x="207.59" y="315.4" width="9.95" height="13.8" fill="#cbc5c8"/>
<rect x="217.99" y="315.4" width="9.95" height="13.8" fill="#cbc5c8"/>
<rect x="228.39" y="315.4" width="9.95" height="13.8" fill="#cbc5c8"/>
<rect x="238.79" y="315.4" width="9.95" height="13.8" fill="#cbc5c8"/>
<rect x="249.18" y="315.4" width="9.95" height="13.8" fill="#cbc5c8"/>
<rect x="259.98" y="315.8" width="9.15" height="13" fill="#76a9d1" stroke="#6794b7" stroke-width="0.8"/>
<rect x="269.98" y="315.4" width="9.95" height="13.8" fill="#cbc5c8"/>
<rect x="280.37" y="315.4" width="9.95" height="13.8" fill="#cbc5c8"/>
<rect x="291.17" y="315.8" width="9.15" height="13" fill="#d6963d" stroke="#bc8435" stroke-width="0.8"/>
<rect x="301.17" y="315.4" width="9.95" height="13.8" fill="#cbc5c8"/>
<rect x="311.56" y="315.4" width="9.95" height="13.8" fill="#cbc5c8"/>
<rect x="321.96" y="315.4" width="9.95" height="13.8" fill="#cbc5c8"/>
<rect x="332.36" y="315.4" width="9.95" height="13.8" fill="#cbc5c8"/>
<rect x="342.75" y="315.4" width="9.95" height="13.8" fill="#cbc5c8"/>
<rect x="353.15" y="315.4" width="9.95" height="13.8" fill="#cbc5c8"/>
<rect x="363.55" y="315.4" width="9.95" height="13.8" fill="#cbc5c8"/>
<rect x="373.95" y="315.4" width="9.95" height="13.8" fill="#cbc5c8"/>
<rect x="384.34" y="315.4" width="9.95" height="13.8" fill="#cbc5c8"/>
<rect x="394.74" y="315.4" width="9.95" height="13.8" fill="#cbc5c8"/>
<rect x="405.14" y="315.4" width="9.95" height="13.8" fill="#cbc5c8"/>
<rect x="415.53" y="315.4" width="9.95" height="13.8" fill="#cbc5c8"/>
<rect x="425.93" y="315.4" width="9.95" height="13.8" fill="#cbc5c8"/>
<rect x="436.33" y="315.4" width="9.95" height="13.8" fill="#cbc5c8"/>
<rect x="446.73" y="315.4" width="9.95" height="13.8" fill="#cbc5c8"/>
<rect x="457.12" y="315.4" width="9.95" height="13.8" fill="#cbc5c8"/>
<rect x="467.52" y="315.4" width="9.95" height="13.8" fill="#cbc5c8"/>
<rect x="477.92" y="315.4" width="9.95" height="13.8" fill="#cbc5c8"/>
<rect x="488.31" y="315.4" width="9.95" height="13.8" fill="#cbc5c8"/>
<rect x="498.71" y="315.4" width="9.95" height="13.8" fill="#cbc5c8"/>
<rect x="186.8" y="329.82" width="9.95" height="13.8" fill="#cbc5c8"/>
<rect x="197.2" y="329.82" width="9.95" height="13.8" fill="#cbc5c8"/>
<rect x="207.59" y="329.82" width="9.95" height="13.8" fill="#cbc5c8"/>
<rect x="217.99" y="329.82" width="9.95" height="13.8" fill="#cbc5c8"/>
<rect x="228.39" y="329.82" width="9.95" height="13.8" fill="#cbc5c8"/>
<rect x="238.79" y="329.82" width="9.95" height="13.8" fill="#cbc5c8"/>
<rect x="249.18" y="329.82" width="9.95" height="13.8" fill="#cbc5c8"/>
<rect x="259.58" y="329.82" width="9.95" height="13.8" fill="#cbc5c8"/>
<rect x="269.98" y="329.82" width="9.95" height="13.8" fill="#cbc5c8"/>
<rect x="280.37" y="329.82" width="9.95" height="13.8" fill="#cbc5c8"/>
<rect x="291.17" y="330.22" width="9.15" height="13" fill="#76a9d1" stroke="#6794b7" stroke-width="0.8"/>
<rect x="301.17" y="329.82" width="9.95" height="13.8" fill="#cbc5c8"/>
<rect x="311.56" y="329.82" width="9.95" height="13.8" fill="#cbc5c8"/>
<rect x="322.36" y="330.22" width="9.15" height="13" fill="#76a9d1" stroke="#6794b7" stroke-width="0.8"/>
<rect x="332.36" y="329.82" width="9.95" height="13.8" fill="#cbc5c8"/>
<rect x="342.75" y="329.82" width="9.95" height="13.8" fill="#cbc5c8"/>
<rect x="353.15" y="329.82" width="9.95" height="13.8" fill="#cbc5c8"/>
<rect x="363.55" y="329.82" width="9.95" height="13.8" fill="#cbc5c8"/>
<rect x="373.95" y="329.82" width="9.95" height="13.8" fill="#cbc5c8"/>
<rect x="384.34" y="329.82" width="9.95" height="13.8" fill="#cbc5c8"/>
<rect x="394.74" y="329.82" width="9.95" height="13.8" fill="#cbc5c8"/>
<rect x="405.14" y="329.82" width="9.95" height="13.8" fill="#cbc5c8"/>
<rect x="415.53" y="329.82" width="9.95" height="13.8" fill="#cbc5c8"/>
<rect x="425.93" y="329.82" width="9.95" height="13.8" fill="#cbc5c8"/>
<rect x="436.33" y="329.82" width="9.95" height="13.8" fill="#cbc5c8"/>
<rect x="446.73" y="329.82" width="9.95" height="13.8" fill="#cbc5c8"/>
<rect x="457.12" y="329.82" width="9.95" height="13.8" fill="#cbc5c8"/>
<rect x="467.52" y="329.82" width="9.95" height="13.8" fill="#cbc5c8"/>
<rect x="477.92" y="329.82" width="9.95" height="13.8" fill="#cbc5c8"/>
<rect x="488.31" y="329.82" width="9.95" height="13.8" fill="#cbc5c8"/>
<rect x="498.71" y="329.82" width="9.95" height="13.8" fill="#cbc5c8"/>
<rect x="186.8" y="344.24" width="9.95" height="13.8" fill="#cbc5c8"/>
<rect x="197.2" y="344.24" width="9.95" height="13.8" fill="#cbc5c8"/>
<rect x="207.59" y="344.24" width="9.95" height="13.8" fill="#cbc5c8"/>
<rect x="217.99" y="344.24" width="9.95" height="13.8" fill="#cbc5c8"/>
<rect x="228.39" y="344.24" width="9.95" height="13.8" fill="#cbc5c8"/>
<rect x="238.79" y="344.24" width="9.95" height="13.8" fill="#cbc5c8"/>
<rect x="249.18" y="344.24" width="9.95" height="13.8" fill="#cbc5c8"/>
<rect x="259.58" y="344.24" width="9.95" height="13.8" fill="#cbc5c8"/>
<rect x="269.98" y="344.24" width="9.95" height="13.8" fill="#cbc5c8"/>
<rect x="280.37" y="344.24" width="9.95" height="13.8" fill="#cbc5c8"/>
<rect x="291.17" y="344.64" width="9.15" height="13" fill="#76a9d1" stroke="#6794b7" stroke-width="0.8"/>
<rect x="301.17" y="344.24" width="9.95" height="13.8" fill="#cbc5c8"/>
<rect x="311.96" y="344.64" width="9.15" height="13" fill="#76a9d1" stroke="#6794b7" stroke-width="0.8"/>
<rect x="321.96" y="344.24" width="9.95" height="13.8" fill="#cbc5c8"/>
<rect x="332.36" y="344.24" width="9.95" height="13.8" fill="#cbc5c8"/>
<rect x="342.75" y="344.24" width="9.95" height="13.8" fill="#cbc5c8"/>
<rect x="353.15" y="344.24" width="9.95" height="13.8" fill="#cbc5c8"/>
<rect x="363.55" y="344.24" width="9.95" height="13.8" fill="#cbc5c8"/>
<rect x="373.95" y="344.24" width="9.95" height="13.8" fill="#cbc5c8"/>
<rect x="384.34" y="344.24" width="9.95" height="13.8" fill="#cbc5c8"/>
<rect x="394.74" y="344.24" width="9.95" height="13.8" fill="#cbc5c8"/>
<rect x="405.14" y="344.24" width="9.95" height="13.8" fill="#cbc5c8"/>
<rect x="415.53" y="344.24" width="9.95" height="13.8" fill="#cbc5c8"/>
<rect x="425.93" y="344.24" width="9.95" height="13.8" fill="#cbc5c8"/>
<rect x="436.33" y="344.24" width="9.95" height="13.8" fill="#cbc5c8"/>
<rect x="446.73" y="344.24" width="9.95" height="13.8" fill="#cbc5c8"/>
<rect x="457.12" y="344.24" width="9.95" height="13.8" fill="#cbc5c8"/>
<rect x="467.52" y="344.24" width="9.95" height="13.8" fill="#cbc5c8"/>
<rect x="477.92" y="344.24" width="9.95" height="13.8" fill="#cbc5c8"/>
<rect x="488.31" y="344.24" width="9.95" height="13.8" fill="#cbc5c8"/>
<rect x="498.71" y="344.24" width="9.95" height="13.8" fill="#cbc5c8"/>
<rect x="186.8" y="358.66" width="9.95" height="13.8" fill="#cbc5c8"/>
<rect x="197.2" y="358.66" width="9.95" height="13.8" fill="#cbc5c8"/>
<rect x="207.59" y="358.66" width="9.95" height="13.8" fill="#cbc5c8"/>
<rect x="217.99" y="358.66" width="9.95" height="13.8" fill="#cbc5c8"/>
<rect x="228.39" y="358.66" width="9.95" height="13.8" fill="#cbc5c8"/>
<rect x="238.79" y="358.66" width="9.95" height="13.8" fill="#cbc5c8"/>
<rect x="249.18" y="358.66" width="9.95" height="13.8" fill="#cbc5c8"/>
<rect x="259.58" y="358.66" width="9.95" height="13.8" fill="#cbc5c8"/>
<rect x="269.98" y="358.66" width="9.95" height="13.8" fill="#cbc5c8"/>
<rect x="280.37" y="358.66" width="9.95" height="13.8" fill="#cbc5c8"/>
<rect x="291.17" y="359.06" width="9.15" height="13" fill="#76a9d1" stroke="#6794b7" stroke-width="0.8"/>
<rect x="301.17" y="358.66" width="9.95" height="13.8" fill="#cbc5c8"/>
<rect x="311.56" y="358.66" width="9.95" height="13.8" fill="#cbc5c8"/>
<rect x="321.96" y="358.66" width="9.95" height="13.8" fill="#cbc5c8"/>
<rect x="332.36" y="358.66" width="9.95" height="13.8" fill="#cbc5c8"/>
<rect x="342.75" y="358.66" width="9.95" height="13.8" fill="#cbc5c8"/>
<rect x="353.15" y="358.66" width="9.95" height="13.8" fill="#cbc5c8"/>
<rect x="363.55" y="358.66" width="9.95" height="13.8" fill="#cbc5c8"/>
<rect x="373.95" y="358.66" width="9.95" height="13.8" fill="#cbc5c8"/>
<rect x="384.34" y="358.66" width="9.95" height="13.8" fill="#cbc5c8"/>
<rect x="394.74" y="358.66" width="9.95" height="13.8" fill="#cbc5c8"/>
<rect x="405.14" y="358.66" width="9.95" height="13.8" fill="#cbc5c8"/>
<rect x="415.53" y="358.66" width="9.95" height="13.8" fill="#cbc5c8"/>
<rect x="425.93" y="358.66" width="9.95" height="13.8" fill="#cbc5c8"/>
<rect x="436.33" y="358.66" width="9.95" height="13.8" fill="#cbc5c8"/>
<rect x="446.73" y="358.66" width="9.95" height="13.8" fill="#cbc5c8"/>
<rect x="457.12" y="358.66" width="9.95" height="13.8" fill="#cbc5c8"/>
<rect x="467.52" y="358.66" width="9.95" height="13.8" fill="#cbc5c8"/>
<rect x="477.92" y="358.66" width="9.95" height="13.8" fill="#cbc5c8"/>
<rect x="488.31" y="358.66" width="9.95" height="13.8" fill="#cbc5c8"/>
<rect x="498.71" y="358.66" width="9.95" height="13.8" fill="#cbc5c8"/>
<rect x="186.8" y="373.08" width="9.95" height="13.8" fill="#cbc5c8"/>
<rect x="197.2" y="373.08" width="9.95" height="13.8" fill="#cbc5c8"/>
<rect x="207.59" y="373.08" width="9.95" height="13.8" fill="#cbc5c8"/>
<rect x="217.99" y="373.08" width="9.95" height="13.8" fill="#cbc5c8"/>
<rect x="228.39" y="373.08" width="9.95" height="13.8" fill="#cbc5c8"/>
<rect x="238.79" y="373.08" width="9.95" height="13.8" fill="#cbc5c8"/>
<rect x="249.18" y="373.08" width="9.95" height="13.8" fill="#cbc5c8"/>
<rect x="259.98" y="373.48" width="9.15" height="13" fill="#76a9d1" stroke="#6794b7" stroke-width="0.8"/>
<rect x="269.98" y="373.08" width="9.95" height="13.8" fill="#cbc5c8"/>
<rect x="280.37" y="373.08" width="9.95" height="13.8" fill="#cbc5c8"/>
<rect x="290.77" y="373.08" width="9.95" height="13.8" fill="#cbc5c8"/>
<rect x="301.17" y="373.08" width="9.95" height="13.8" fill="#cbc5c8"/>
<rect x="311.56" y="373.08" width="9.95" height="13.8" fill="#cbc5c8"/>
<rect x="321.96" y="373.08" width="9.95" height="13.8" fill="#cbc5c8"/>
<rect x="332.36" y="373.08" width="9.95" height="13.8" fill="#cbc5c8"/>
<rect x="342.75" y="373.08" width="9.95" height="13.8" fill="#cbc5c8"/>
<rect x="353.15" y="373.08" width="9.95" height="13.8" fill="#cbc5c8"/>
<rect x="363.55" y="373.08" width="9.95" height="13.8" fill="#cbc5c8"/>
<rect x="373.95" y="373.08" width="9.95" height="13.8" fill="#cbc5c8"/>
<rect x="384.34" y="373.08" width="9.95" height="13.8" fill="#cbc5c8"/>
<rect x="394.74" y="373.08" width="9.95" height="13.8" fill="#cbc5c8"/>
<rect x="405.14" y="373.08" width="9.95" height="13.8" fill="#cbc5c8"/>
<rect x="415.53" y="373.08" width="9.95" height="13.8" fill="#cbc5c8"/>
<rect x="425.93" y="373.08" width="9.95" height="13.8" fill="#cbc5c8"/>
<rect x="436.33" y="373.08" width="9.95" height="13.8" fill="#cbc5c8"/>
<rect x="446.73" y="373.08" width="9.95" height="13.8" fill="#cbc5c8"/>
<rect x="457.12" y="373.08" width="9.95" height="13.8" fill="#cbc5c8"/>
<rect x="467.52" y="373.08" width="9.95" height="13.8" fill="#cbc5c8"/>
<rect x="477.92" y="373.08" width="9.95" height="13.8" fill="#cbc5c8"/>
<rect x="488.31" y="373.08" width="9.95" height="13.8" fill="#cbc5c8"/>
<rect x="498.71" y="373.08" width="9.95" height="13.8" fill="#cbc5c8"/>
<rect x="186.8" y="387.5" width="9.95" height="13.8" fill="#e3dfe1"/>
<rect x="197.2" y="387.5" width="9.95" height="13.8" fill="#e3dfe1"/>
<rect x="207.59" y="387.5" width="9.95" height="13.8" fill="#e3dfe1"/>
<rect x="217.99" y="387.5" width="9.95" height="13.8" fill="#e3dfe1"/>
<rect x="228.79" y="387.9" width="9.15" height="13" fill="#76a9d1" stroke="#6794b7" stroke-width="0.8"/>
<rect x="239.19" y="387.9" width="9.15" height="13" fill="#76a9d1" stroke="#6794b7" stroke-width="0.8"/>
<rect x="249.18" y="387.5" width="9.95" height="13.8" fill="#e3dfe1"/>
<rect x="259.58" y="387.5" width="9.95" height="13.8" fill="#e3dfe1"/>
<rect x="269.98" y="387.5" width="9.95" height="13.8" fill="#e3dfe1"/>
<rect x="280.37" y="387.5" width="9.95" height="13.8" fill="#e3dfe1"/>
<rect x="291.17" y="387.9" width="9.15" height="13" fill="#76a9d1" stroke="#6794b7" stroke-width="0.8"/>
<rect x="301.17" y="387.5" width="9.95" height="13.8" fill="#e3dfe1"/>
<rect x="311.56" y="387.5" width="9.95" height="13.8" fill="#e3dfe1"/>
<rect x="321.96" y="387.5" width="9.95" height="13.8" fill="#e3dfe1"/>
<rect x="332.36" y="387.5" width="9.95" height="13.8" fill="#e3dfe1"/>
<rect x="342.75" y="387.5" width="9.95" height="13.8" fill="#e3dfe1"/>
<rect x="353.15" y="387.5" width="9.95" height="13.8" fill="#e3dfe1"/>
<rect x="363.55" y="387.5" width="9.95" height="13.8" fill="#e3dfe1"/>
<rect x="373.95" y="387.5" width="9.95" height="13.8" fill="#e3dfe1"/>
<rect x="384.34" y="387.5" width="9.95" height="13.8" fill="#e3dfe1"/>
<rect x="394.74" y="387.5" width="9.95" height="13.8" fill="#e3dfe1"/>
<rect x="405.14" y="387.5" width="9.95" height="13.8" fill="#e3dfe1"/>
<rect x="415.53" y="387.5" width="9.95" height="13.8" fill="#e3dfe1"/>
<rect x="425.93" y="387.5" width="9.95" height="13.8" fill="#e3dfe1"/>
<rect x="436.33" y="387.5" width="9.95" height="13.8" fill="#e3dfe1"/>
<rect x="446.73" y="387.5" width="9.95" height="13.8" fill="#e3dfe1"/>
<rect x="457.12" y="387.5" width="9.95" height="13.8" fill="#e3dfe1"/>
<rect x="467.52" y="387.5" width="9.95" height="13.8" fill="#e3dfe1"/>
<rect x="477.92" y="387.5" width="9.95" height="13.8" fill="#e3dfe1"/>
<rect x="488.31" y="387.5" width="9.95" height="13.8" fill="#e3dfe1"/>
<rect x="498.71" y="387.5" width="9.95" height="13.8" fill="#e3dfe1"/>
<rect x="186.8" y="401.92" width="9.95" height="13.8" fill="#e3dfe1"/>
<rect x="197.2" y="401.92" width="9.95" height="13.8" fill="#e3dfe1"/>
<rect x="207.59" y="401.92" width="9.95" height="13.8" fill="#e3dfe1"/>
<rect x="217.99" y="401.92" width="9.95" height="13.8" fill="#e3dfe1"/>
<rect x="228.39" y="401.92" width="9.95" height="13.8" fill="#e3dfe1"/>
<rect x="238.79" y="401.92" width="9.95" height="13.8" fill="#e3dfe1"/>
<rect x="249.18" y="401.92" width="9.95" height="13.8" fill="#e3dfe1"/>
<rect x="259.58" y="401.92" width="9.95" height="13.8" fill="#e3dfe1"/>
<rect x="269.98" y="401.92" width="9.95" height="13.8" fill="#e3dfe1"/>
<rect x="280.37" y="401.92" width="9.95" height="13.8" fill="#e3dfe1"/>
<rect x="290.77" y="401.92" width="9.95" height="13.8" fill="#e3dfe1"/>
<rect x="301.17" y="401.92" width="9.95" height="13.8" fill="#e3dfe1"/>
<rect x="311.56" y="401.92" width="9.95" height="13.8" fill="#e3dfe1"/>
<rect x="321.96" y="401.92" width="9.95" height="13.8" fill="#e3dfe1"/>
<rect x="332.36" y="401.92" width="9.95" height="13.8" fill="#e3dfe1"/>
<rect x="342.75" y="401.92" width="9.95" height="13.8" fill="#e3dfe1"/>
<rect x="353.15" y="401.92" width="9.95" height="13.8" fill="#e3dfe1"/>
<rect x="363.55" y="401.92" width="9.95" height="13.8" fill="#e3dfe1"/>
<rect x="374.35" y="402.32" width="9.15" height="13" fill="#76a9d1" stroke="#6794b7" stroke-width="0.8"/>
<rect x="384.34" y="401.92" width="9.95" height="13.8" fill="#e3dfe1"/>
<rect x="394.74" y="401.92" width="9.95" height="13.8" fill="#e3dfe1"/>
<rect x="405.14" y="401.92" width="9.95" height="13.8" fill="#e3dfe1"/>
<rect x="415.53" y="401.92" width="9.95" height="13.8" fill="#e3dfe1"/>
<rect x="425.93" y="401.92" width="9.95" height="13.8" fill="#e3dfe1"/>
<rect x="436.33" y="401.92" width="9.95" height="13.8" fill="#e3dfe1"/>
<rect x="446.73" y="401.92" width="9.95" height="13.8" fill="#e3dfe1"/>
<rect x="457.12" y="401.92" width="9.95" height="13.8" fill="#e3dfe1"/>
<rect x="467.52" y="401.92" width="9.95" height="13.8" fill="#e3dfe1"/>
<rect x="477.92" y="401.92" width="9.95" height="13.8" fill="#e3dfe1"/>
<rect x="488.31" y="401.92" width="9.95" height="13.8" fill="#e3dfe1"/>
<rect x="498.71" y="401.92" width="9.95" height="13.8" fill="#e3dfe1"/>
<rect x="186.8" y="416.34" width="9.95" height="13.8" fill="#e3dfe1"/>
<rect x="197.2" y="416.34" width="9.95" height="13.8" fill="#e3dfe1"/>
<rect x="207.59" y="416.34" width="9.95" height="13.8" fill="#e3dfe1"/>
<rect x="217.99" y="416.34" width="9.95" height="13.8" fill="#e3dfe1"/>
<rect x="228.39" y="416.34" width="9.95" height="13.8" fill="#e3dfe1"/>
<rect x="238.79" y="416.34" width="9.95" height="13.8" fill="#e3dfe1"/>
<rect x="249.18" y="416.34" width="9.95" height="13.8" fill="#e3dfe1"/>
<rect x="259.58" y="416.34" width="9.95" height="13.8" fill="#e3dfe1"/>
<rect x="269.98" y="416.34" width="9.95" height="13.8" fill="#e3dfe1"/>
<rect x="280.37" y="416.34" width="9.95" height="13.8" fill="#e3dfe1"/>
<rect x="290.77" y="416.34" width="9.95" height="13.8" fill="#e3dfe1"/>
<rect x="301.17" y="416.34" width="9.95" height="13.8" fill="#e3dfe1"/>
<rect x="311.56" y="416.34" width="9.95" height="13.8" fill="#e3dfe1"/>
<rect x="321.96" y="416.34" width="9.95" height="13.8" fill="#e3dfe1"/>
<rect x="332.36" y="416.34" width="9.95" height="13.8" fill="#e3dfe1"/>
<rect x="342.75" y="416.34" width="9.95" height="13.8" fill="#e3dfe1"/>
<rect x="353.15" y="416.34" width="9.95" height="13.8" fill="#e3dfe1"/>
<rect x="363.95" y="416.74" width="9.15" height="13" fill="#76a9d1" stroke="#6794b7" stroke-width="0.8"/>
<rect x="373.95" y="416.34" width="9.95" height="13.8" fill="#e3dfe1"/>
<rect x="384.34" y="416.34" width="9.95" height="13.8" fill="#e3dfe1"/>
<rect x="394.74" y="416.34" width="9.95" height="13.8" fill="#e3dfe1"/>
<rect x="405.14" y="416.34" width="9.95" height="13.8" fill="#e3dfe1"/>
<rect x="415.53" y="416.34" width="9.95" height="13.8" fill="#e3dfe1"/>
<rect x="425.93" y="416.34" width="9.95" height="13.8" fill="#e3dfe1"/>
<rect x="436.33" y="416.34" width="9.95" height="13.8" fill="#e3dfe1"/>
<rect x="446.73" y="416.34" width="9.95" height="13.8" fill="#e3dfe1"/>
<rect x="457.12" y="416.34" width="9.95" height="13.8" fill="#e3dfe1"/>
<rect x="467.52" y="416.34" width="9.95" height="13.8" fill="#e3dfe1"/>
<rect x="477.92" y="416.34" width="9.95" height="13.8" fill="#e3dfe1"/>
<rect x="488.31" y="416.34" width="9.95" height="13.8" fill="#e3dfe1"/>
<rect x="498.71" y="416.34" width="9.95" height="13.8" fill="#e3dfe1"/>
<rect x="186.8" y="430.76" width="9.95" height="13.8" fill="#e3dfe1"/>
<rect x="197.2" y="430.76" width="9.95" height="13.8" fill="#e3dfe1"/>
<rect x="207.59" y="430.76" width="9.95" height="13.8" fill="#e3dfe1"/>
<rect x="217.99" y="430.76" width="9.95" height="13.8" fill="#e3dfe1"/>
<rect x="228.39" y="430.76" width="9.95" height="13.8" fill="#e3dfe1"/>
<rect x="238.79" y="430.76" width="9.95" height="13.8" fill="#e3dfe1"/>
<rect x="249.18" y="430.76" width="9.95" height="13.8" fill="#e3dfe1"/>
<rect x="259.58" y="430.76" width="9.95" height="13.8" fill="#e3dfe1"/>
<rect x="269.98" y="430.76" width="9.95" height="13.8" fill="#e3dfe1"/>
<rect x="280.37" y="430.76" width="9.95" height="13.8" fill="#e3dfe1"/>
<rect x="290.77" y="430.76" width="9.95" height="13.8" fill="#e3dfe1"/>
<rect x="301.57" y="431.16" width="9.15" height="13" fill="#76a9d1" stroke="#6794b7" stroke-width="0.8"/>
<rect x="311.56" y="430.76" width="9.95" height="13.8" fill="#e3dfe1"/>
<rect x="321.96" y="430.76" width="9.95" height="13.8" fill="#e3dfe1"/>
<rect x="332.36" y="430.76" width="9.95" height="13.8" fill="#e3dfe1"/>
<rect x="342.75" y="430.76" width="9.95" height="13.8" fill="#e3dfe1"/>
<rect x="353.15" y="430.76" width="9.95" height="13.8" fill="#e3dfe1"/>
<rect x="363.55" y="430.76" width="9.95" height="13.8" fill="#e3dfe1"/>
<rect x="373.95" y="430.76" width="9.95" height="13.8" fill="#e3dfe1"/>
<rect x="384.34" y="430.76" width="9.95" height="13.8" fill="#e3dfe1"/>
<rect x="394.74" y="430.76" width="9.95" height="13.8" fill="#e3dfe1"/>
<rect x="405.14" y="430.76" width="9.95" height="13.8" fill="#e3dfe1"/>
<rect x="415.53" y="430.76" width="9.95" height="13.8" fill="#e3dfe1"/>
<rect x="425.93" y="430.76" width="9.95" height="13.8" fill="#e3dfe1"/>
<rect x="436.33" y="430.76" width="9.95" height="13.8" fill="#e3dfe1"/>
<rect x="446.73" y="430.76" width="9.95" height="13.8" fill="#e3dfe1"/>
<rect x="457.12" y="430.76" width="9.95" height="13.8" fill="#e3dfe1"/>
<rect x="467.52" y="430.76" width="9.95" height="13.8" fill="#e3dfe1"/>
<rect x="477.92" y="430.76" width="9.95" height="13.8" fill="#e3dfe1"/>
<rect x="488.31" y="430.76" width="9.95" height="13.8" fill="#e3dfe1"/>
<rect x="498.71" y="430.76" width="9.95" height="13.8" fill="#e3dfe1"/>
<rect x="186.8" y="445.18" width="9.95" height="13.8" fill="#cbc5c8"/>
<rect x="197.2" y="445.18" width="9.95" height="13.8" fill="#cbc5c8"/>
<rect x="207.59" y="445.18" width="9.95" height="13.8" fill="#cbc5c8"/>
<rect x="217.99" y="445.18" width="9.95" height="13.8" fill="#cbc5c8"/>
<rect x="228.39" y="445.18" width="9.95" height="13.8" fill="#cbc5c8"/>
<rect x="238.79" y="445.18" width="9.95" height="13.8" fill="#cbc5c8"/>
<rect x="249.18" y="445.18" width="9.95" height="13.8" fill="#cbc5c8"/>
<rect x="259.58" y="445.18" width="9.95" height="13.8" fill="#cbc5c8"/>
<rect x="269.98" y="445.18" width="9.95" height="13.8" fill="#cbc5c8"/>
<rect x="280.37" y="445.18" width="9.95" height="13.8" fill="#cbc5c8"/>
<rect x="290.77" y="445.18" width="9.95" height="13.8" fill="#cbc5c8"/>
<rect x="301.17" y="445.18" width="9.95" height="13.8" fill="#cbc5c8"/>
<rect x="311.56" y="445.18" width="9.95" height="13.8" fill="#cbc5c8"/>
<rect x="321.96" y="445.18" width="9.95" height="13.8" fill="#cbc5c8"/>
<rect x="332.36" y="445.18" width="9.95" height="13.8" fill="#cbc5c8"/>
<rect x="342.75" y="445.18" width="9.95" height="13.8" fill="#cbc5c8"/>
<rect x="353.15" y="445.18" width="9.95" height="13.8" fill="#cbc5c8"/>
<rect x="363.55" y="445.18" width="9.95" height="13.8" fill="#cbc5c8"/>
<rect x="373.95" y="445.18" width="9.95" height="13.8" fill="#cbc5c8"/>
<rect x="384.74" y="445.58" width="9.15" height="13" fill="#76a9d1" stroke="#6794b7" stroke-width="0.8"/>
<rect x="394.74" y="445.18" width="9.95" height="13.8" fill="#cbc5c8"/>
<rect x="405.14" y="445.18" width="9.95" height="13.8" fill="#cbc5c8"/>
<rect x="415.53" y="445.18" width="9.95" height="13.8" fill="#cbc5c8"/>
<rect x="425.93" y="445.18" width="9.95" height="13.8" fill="#cbc5c8"/>
<rect x="436.33" y="445.18" width="9.95" height="13.8" fill="#cbc5c8"/>
<rect x="446.73" y="445.18" width="9.95" height="13.8" fill="#cbc5c8"/>
<rect x="457.12" y="445.18" width="9.95" height="13.8" fill="#cbc5c8"/>
<rect x="467.52" y="445.18" width="9.95" height="13.8" fill="#cbc5c8"/>
<rect x="477.92" y="445.18" width="9.95" height="13.8" fill="#cbc5c8"/>
<rect x="488.31" y="445.18" width="9.95" height="13.8" fill="#cbc5c8"/>
<rect x="498.71" y="445.18" width="9.95" height="13.8" fill="#cbc5c8"/>
<rect x="186.8" y="459.6" width="9.95" height="13.8" fill="#cbc5c8"/>
<rect x="197.2" y="459.6" width="9.95" height="13.8" fill="#cbc5c8"/>
<rect x="207.59" y="459.6" width="9.95" height="13.8" fill="#cbc5c8"/>
<rect x="217.99" y="459.6" width="9.95" height="13.8" fill="#cbc5c8"/>
<rect x="228.39" y="459.6" width="9.95" height="13.8" fill="#cbc5c8"/>
<rect x="238.79" y="459.6" width="9.95" height="13.8" fill="#cbc5c8"/>
<rect x="249.18" y="459.6" width="9.95" height="13.8" fill="#cbc5c8"/>
<rect x="259.58" y="459.6" width="9.95" height="13.8" fill="#cbc5c8"/>
<rect x="269.98" y="459.6" width="9.95" height="13.8" fill="#cbc5c8"/>
<rect x="280.37" y="459.6" width="9.95" height="13.8" fill="#cbc5c8"/>
<rect x="290.77" y="459.6" width="9.95" height="13.8" fill="#cbc5c8"/>
<rect x="301.17" y="459.6" width="9.95" height="13.8" fill="#cbc5c8"/>
<rect x="311.56" y="459.6" width="9.95" height="13.8" fill="#cbc5c8"/>
<rect x="321.96" y="459.6" width="9.95" height="13.8" fill="#cbc5c8"/>
<rect x="332.36" y="459.6" width="9.95" height="13.8" fill="#cbc5c8"/>
<rect x="342.75" y="459.6" width="9.95" height="13.8" fill="#cbc5c8"/>
<rect x="353.15" y="459.6" width="9.95" height="13.8" fill="#cbc5c8"/>
<rect x="363.55" y="459.6" width="9.95" height="13.8" fill="#cbc5c8"/>
<rect x="373.95" y="459.6" width="9.95" height="13.8" fill="#cbc5c8"/>
<rect x="384.34" y="459.6" width="9.95" height="13.8" fill="#cbc5c8"/>
<rect x="394.74" y="459.6" width="9.95" height="13.8" fill="#cbc5c8"/>
<rect x="405.54" y="460" width="9.15" height="13" fill="#76a9d1" stroke="#6794b7" stroke-width="0.8"/>
<rect x="415.53" y="459.6" width="9.95" height="13.8" fill="#cbc5c8"/>
<rect x="425.93" y="459.6" width="9.95" height="13.8" fill="#cbc5c8"/>
<rect x="436.33" y="459.6" width="9.95" height="13.8" fill="#cbc5c8"/>
<rect x="446.73" y="459.6" width="9.95" height="13.8" fill="#cbc5c8"/>
<rect x="457.12" y="459.6" width="9.95" height="13.8" fill="#cbc5c8"/>
<rect x="467.52" y="459.6" width="9.95" height="13.8" fill="#cbc5c8"/>
<rect x="477.92" y="459.6" width="9.95" height="13.8" fill="#cbc5c8"/>
<rect x="488.31" y="459.6" width="9.95" height="13.8" fill="#cbc5c8"/>
<rect x="498.71" y="459.6" width="9.95" height="13.8" fill="#cbc5c8"/>
<rect x="186.8" y="474.02" width="9.95" height="13.8" fill="#e3dfe1"/>
<rect x="197.6" y="474.42" width="9.15" height="13" fill="#686b74" stroke="#5b5e66" stroke-width="0.8"/>
<rect x="207.59" y="474.02" width="9.95" height="13.8" fill="#e3dfe1"/>
<rect x="217.99" y="474.02" width="9.95" height="13.8" fill="#e3dfe1"/>
<rect x="228.39" y="474.02" width="9.95" height="13.8" fill="#e3dfe1"/>
<rect x="238.79" y="474.02" width="9.95" height="13.8" fill="#e3dfe1"/>
<rect x="249.18" y="474.02" width="9.95" height="13.8" fill="#e3dfe1"/>
<rect x="259.58" y="474.02" width="9.95" height="13.8" fill="#e3dfe1"/>
<rect x="269.98" y="474.02" width="9.95" height="13.8" fill="#e3dfe1"/>
<rect x="280.37" y="474.02" width="9.95" height="13.8" fill="#e3dfe1"/>
<rect x="290.77" y="474.02" width="9.95" height="13.8" fill="#e3dfe1"/>
<rect x="301.57" y="474.42" width="9.15" height="13" fill="#76a9d1" stroke="#6794b7" stroke-width="0.8"/>
<rect x="311.56" y="474.02" width="9.95" height="13.8" fill="#e3dfe1"/>
<rect x="321.96" y="474.02" width="9.95" height="13.8" fill="#e3dfe1"/>
<rect x="332.36" y="474.02" width="9.95" height="13.8" fill="#e3dfe1"/>
<rect x="343.15" y="474.42" width="9.15" height="13" fill="#76a9d1" stroke="#6794b7" stroke-width="0.8"/>
<rect x="353.15" y="474.02" width="9.95" height="13.8" fill="#e3dfe1"/>
<rect x="363.55" y="474.02" width="9.95" height="13.8" fill="#e3dfe1"/>
<rect x="373.95" y="474.02" width="9.95" height="13.8" fill="#e3dfe1"/>
<rect x="384.34" y="474.02" width="9.95" height="13.8" fill="#e3dfe1"/>
<rect x="394.74" y="474.02" width="9.95" height="13.8" fill="#e3dfe1"/>
<rect x="405.14" y="474.02" width="9.95" height="13.8" fill="#e3dfe1"/>
<rect x="415.93" y="474.42" width="9.15" height="13" fill="#76a9d1" stroke="#6794b7" stroke-width="0.8"/>
<rect x="425.93" y="474.02" width="9.95" height="13.8" fill="#e3dfe1"/>
<rect x="436.33" y="474.02" width="9.95" height="13.8" fill="#e3dfe1"/>
<rect x="446.73" y="474.02" width="9.95" height="13.8" fill="#e3dfe1"/>
<rect x="457.12" y="474.02" width="9.95" height="13.8" fill="#e3dfe1"/>
<rect x="467.52" y="474.02" width="9.95" height="13.8" fill="#e3dfe1"/>
<rect x="477.92" y="474.02" width="9.95" height="13.8" fill="#e3dfe1"/>
<rect x="488.31" y="474.02" width="9.95" height="13.8" fill="#e3dfe1"/>
<rect x="498.71" y="474.02" width="9.95" height="13.8" fill="#e3dfe1"/>
<rect x="186.8" y="488.44" width="9.95" height="13.8" fill="#e3dfe1"/>
<rect x="197.2" y="488.44" width="9.95" height="13.8" fill="#e3dfe1"/>
<rect x="207.59" y="488.44" width="9.95" height="13.8" fill="#e3dfe1"/>
<rect x="217.99" y="488.44" width="9.95" height="13.8" fill="#e3dfe1"/>
<rect x="228.39" y="488.44" width="9.95" height="13.8" fill="#e3dfe1"/>
<rect x="238.79" y="488.44" width="9.95" height="13.8" fill="#e3dfe1"/>
<rect x="249.18" y="488.44" width="9.95" height="13.8" fill="#e3dfe1"/>
<rect x="259.98" y="488.84" width="9.15" height="13" fill="#76a9d1" stroke="#6794b7" stroke-width="0.8"/>
<rect x="270.38" y="488.84" width="9.15" height="13" fill="#76a9d1" stroke="#6794b7" stroke-width="0.8"/>
<rect x="280.37" y="488.44" width="9.95" height="13.8" fill="#e3dfe1"/>
<rect x="290.77" y="488.44" width="9.95" height="13.8" fill="#e3dfe1"/>
<rect x="301.17" y="488.44" width="9.95" height="13.8" fill="#e3dfe1"/>
<rect x="311.56" y="488.44" width="9.95" height="13.8" fill="#e3dfe1"/>
<rect x="321.96" y="488.44" width="9.95" height="13.8" fill="#e3dfe1"/>
<rect x="332.36" y="488.44" width="9.95" height="13.8" fill="#e3dfe1"/>
<rect x="342.75" y="488.44" width="9.95" height="13.8" fill="#e3dfe1"/>
<rect x="353.15" y="488.44" width="9.95" height="13.8" fill="#e3dfe1"/>
<rect x="363.55" y="488.44" width="9.95" height="13.8" fill="#e3dfe1"/>
<rect x="373.95" y="488.44" width="9.95" height="13.8" fill="#e3dfe1"/>
<rect x="384.34" y="488.44" width="9.95" height="13.8" fill="#e3dfe1"/>
<rect x="394.74" y="488.44" width="9.95" height="13.8" fill="#e3dfe1"/>
<rect x="405.14" y="488.44" width="9.95" height="13.8" fill="#e3dfe1"/>
<rect x="415.53" y="488.44" width="9.95" height="13.8" fill="#e3dfe1"/>
<rect x="425.93" y="488.44" width="9.95" height="13.8" fill="#e3dfe1"/>
<rect x="436.33" y="488.44" width="9.95" height="13.8" fill="#e3dfe1"/>
<rect x="446.73" y="488.44" width="9.95" height="13.8" fill="#e3dfe1"/>
<rect x="457.12" y="488.44" width="9.95" height="13.8" fill="#e3dfe1"/>
<rect x="467.52" y="488.44" width="9.95" height="13.8" fill="#e3dfe1"/>
<rect x="477.92" y="488.44" width="9.95" height="13.8" fill="#e3dfe1"/>
<rect x="488.31" y="488.44" width="9.95" height="13.8" fill="#e3dfe1"/>
<rect x="498.71" y="488.44" width="9.95" height="13.8" fill="#e3dfe1"/>
<rect x="186.8" y="502.86" width="9.95" height="13.8" fill="#e3dfe1"/>
<rect x="197.2" y="502.86" width="9.95" height="13.8" fill="#e3dfe1"/>
<rect x="207.59" y="502.86" width="9.95" height="13.8" fill="#e3dfe1"/>
<rect x="217.99" y="502.86" width="9.95" height="13.8" fill="#e3dfe1"/>
<rect x="228.39" y="502.86" width="9.95" height="13.8" fill="#e3dfe1"/>
<rect x="238.79" y="502.86" width="9.95" height="13.8" fill="#e3dfe1"/>
<rect x="249.18" y="502.86" width="9.95" height="13.8" fill="#e3dfe1"/>
<rect x="259.58" y="502.86" width="9.95" height="13.8" fill="#e3dfe1"/>
<rect x="270.38" y="503.26" width="9.15" height="13" fill="#76a9d1" stroke="#6794b7" stroke-width="0.8"/>
<rect x="280.77" y="503.26" width="9.15" height="13" fill="#76a9d1" stroke="#6794b7" stroke-width="0.8"/>
<rect x="290.77" y="502.86" width="9.95" height="13.8" fill="#e3dfe1"/>
<rect x="301.17" y="502.86" width="9.95" height="13.8" fill="#e3dfe1"/>
<rect x="311.56" y="502.86" width="9.95" height="13.8" fill="#e3dfe1"/>
<rect x="321.96" y="502.86" width="9.95" height="13.8" fill="#e3dfe1"/>
<rect x="332.36" y="502.86" width="9.95" height="13.8" fill="#e3dfe1"/>
<rect x="342.75" y="502.86" width="9.95" height="13.8" fill="#e3dfe1"/>
<rect x="353.15" y="502.86" width="9.95" height="13.8" fill="#e3dfe1"/>
<rect x="363.55" y="502.86" width="9.95" height="13.8" fill="#e3dfe1"/>
<rect x="373.95" y="502.86" width="9.95" height="13.8" fill="#e3dfe1"/>
<rect x="384.34" y="502.86" width="9.95" height="13.8" fill="#e3dfe1"/>
<rect x="394.74" y="502.86" width="9.95" height="13.8" fill="#e3dfe1"/>
<rect x="405.14" y="502.86" width="9.95" height="13.8" fill="#e3dfe1"/>
<rect x="415.53" y="502.86" width="9.95" height="13.8" fill="#e3dfe1"/>
<rect x="425.93" y="502.86" width="9.95" height="13.8" fill="#e3dfe1"/>
<rect x="436.33" y="502.86" width="9.95" height="13.8" fill="#e3dfe1"/>
<rect x="446.73" y="502.86" width="9.95" height="13.8" fill="#e3dfe1"/>
<rect x="457.12" y="502.86" width="9.95" height="13.8" fill="#e3dfe1"/>
<rect x="467.52" y="502.86" width="9.95" height="13.8" fill="#e3dfe1"/>
<rect x="477.92" y="502.86" width="9.95" height="13.8" fill="#e3dfe1"/>
<rect x="488.31" y="502.86" width="9.95" height="13.8" fill="#e3dfe1"/>
<rect x="498.71" y="502.86" width="9.95" height="13.8" fill="#e3dfe1"/>
<rect x="187.2" y="517.68" width="9.15" height="13" fill="#76a9d1" stroke="#6794b7" stroke-width="0.8"/>
<rect x="197.6" y="517.68" width="9.15" height="13" fill="#76a9d1" stroke="#6794b7" stroke-width="0.8"/>
<rect x="207.59" y="517.28" width="9.95" height="13.8" fill="#e3dfe1"/>
<rect x="217.99" y="517.28" width="9.95" height="13.8" fill="#e3dfe1"/>
<rect x="228.39" y="517.28" width="9.95" height="13.8" fill="#e3dfe1"/>
<rect x="238.79" y="517.28" width="9.95" height="13.8" fill="#e3dfe1"/>
<rect x="249.18" y="517.28" width="9.95" height="13.8" fill="#e3dfe1"/>
<rect x="259.58" y="517.28" width="9.95" height="13.8" fill="#e3dfe1"/>
<rect x="269.98" y="517.28" width="9.95" height="13.8" fill="#e3dfe1"/>
<rect x="280.37" y="517.28" width="9.95" height="13.8" fill="#e3dfe1"/>
<rect x="290.77" y="517.28" width="9.95" height="13.8" fill="#e3dfe1"/>
<rect x="301.17" y="517.28" width="9.95" height="13.8" fill="#e3dfe1"/>
<rect x="311.56" y="517.28" width="9.95" height="13.8" fill="#e3dfe1"/>
<rect x="321.96" y="517.28" width="9.95" height="13.8" fill="#e3dfe1"/>
<rect x="332.36" y="517.28" width="9.95" height="13.8" fill="#e3dfe1"/>
<rect x="342.75" y="517.28" width="9.95" height="13.8" fill="#e3dfe1"/>
<rect x="353.15" y="517.28" width="9.95" height="13.8" fill="#e3dfe1"/>
<rect x="363.55" y="517.28" width="9.95" height="13.8" fill="#e3dfe1"/>
<rect x="373.95" y="517.28" width="9.95" height="13.8" fill="#e3dfe1"/>
<rect x="384.34" y="517.28" width="9.95" height="13.8" fill="#e3dfe1"/>
<rect x="394.74" y="517.28" width="9.95" height="13.8" fill="#e3dfe1"/>
<rect x="405.14" y="517.28" width="9.95" height="13.8" fill="#e3dfe1"/>
<rect x="415.53" y="517.28" width="9.95" height="13.8" fill="#e3dfe1"/>
<rect x="425.93" y="517.28" width="9.95" height="13.8" fill="#e3dfe1"/>
<rect x="436.33" y="517.28" width="9.95" height="13.8" fill="#e3dfe1"/>
<rect x="446.73" y="517.28" width="9.95" height="13.8" fill="#e3dfe1"/>
<rect x="457.12" y="517.28" width="9.95" height="13.8" fill="#e3dfe1"/>
<rect x="467.52" y="517.28" width="9.95" height="13.8" fill="#e3dfe1"/>
<rect x="477.92" y="517.28" width="9.95" height="13.8" fill="#e3dfe1"/>
<rect x="488.31" y="517.28" width="9.95" height="13.8" fill="#e3dfe1"/>
<rect x="498.71" y="517.28" width="9.95" height="13.8" fill="#e3dfe1"/>
<rect x="186.8" y="531.7" width="9.95" height="13.8" fill="#e3dfe1"/>
<rect x="197.2" y="531.7" width="9.95" height="13.8" fill="#e3dfe1"/>
<rect x="207.59" y="531.7" width="9.95" height="13.8" fill="#e3dfe1"/>
<rect x="217.99" y="531.7" width="9.95" height="13.8" fill="#e3dfe1"/>
<rect x="228.39" y="531.7" width="9.95" height="13.8" fill="#e3dfe1"/>
<rect x="239.19" y="532.1" width="9.15" height="13" fill="#76a9d1" stroke="#6794b7" stroke-width="0.8"/>
<rect x="249.18" y="531.7" width="9.95" height="13.8" fill="#e3dfe1"/>
<rect x="259.58" y="531.7" width="9.95" height="13.8" fill="#e3dfe1"/>
<rect x="269.98" y="531.7" width="9.95" height="13.8" fill="#e3dfe1"/>
<rect x="280.37" y="531.7" width="9.95" height="13.8" fill="#e3dfe1"/>
<rect x="290.77" y="531.7" width="9.95" height="13.8" fill="#e3dfe1"/>
<rect x="301.17" y="531.7" width="9.95" height="13.8" fill="#e3dfe1"/>
<rect x="311.56" y="531.7" width="9.95" height="13.8" fill="#e3dfe1"/>
<rect x="321.96" y="531.7" width="9.95" height="13.8" fill="#e3dfe1"/>
<rect x="332.36" y="531.7" width="9.95" height="13.8" fill="#e3dfe1"/>
<rect x="342.75" y="531.7" width="9.95" height="13.8" fill="#e3dfe1"/>
<rect x="353.15" y="531.7" width="9.95" height="13.8" fill="#e3dfe1"/>
<rect x="363.55" y="531.7" width="9.95" height="13.8" fill="#e3dfe1"/>
<rect x="373.95" y="531.7" width="9.95" height="13.8" fill="#e3dfe1"/>
<rect x="384.34" y="531.7" width="9.95" height="13.8" fill="#e3dfe1"/>
<rect x="394.74" y="531.7" width="9.95" height="13.8" fill="#e3dfe1"/>
<rect x="405.14" y="531.7" width="9.95" height="13.8" fill="#e3dfe1"/>
<rect x="415.53" y="531.7" width="9.95" height="13.8" fill="#e3dfe1"/>
<rect x="426.33" y="532.1" width="9.15" height="13" fill="#c13b7b" stroke="#a9336c" stroke-width="0.8"/>
<rect x="436.33" y="531.7" width="9.95" height="13.8" fill="#e3dfe1"/>
<rect x="446.73" y="531.7" width="9.95" height="13.8" fill="#e3dfe1"/>
<rect x="457.12" y="531.7" width="9.95" height="13.8" fill="#e3dfe1"/>
<rect x="467.52" y="531.7" width="9.95" height="13.8" fill="#e3dfe1"/>
<rect x="477.92" y="531.7" width="9.95" height="13.8" fill="#e3dfe1"/>
<rect x="488.31" y="531.7" width="9.95" height="13.8" fill="#e3dfe1"/>
<rect x="498.71" y="531.7" width="9.95" height="13.8" fill="#e3dfe1"/>
<rect x="186.8" y="546.12" width="9.95" height="13.8" fill="#e3dfe1"/>
<rect x="197.2" y="546.12" width="9.95" height="13.8" fill="#e3dfe1"/>
<rect x="207.59" y="546.12" width="9.95" height="13.8" fill="#e3dfe1"/>
<rect x="217.99" y="546.12" width="9.95" height="13.8" fill="#e3dfe1"/>
<rect x="228.39" y="546.12" width="9.95" height="13.8" fill="#e3dfe1"/>
<rect x="238.79" y="546.12" width="9.95" height="13.8" fill="#e3dfe1"/>
<rect x="249.18" y="546.12" width="9.95" height="13.8" fill="#e3dfe1"/>
<rect x="259.58" y="546.12" width="9.95" height="13.8" fill="#e3dfe1"/>
<rect x="269.98" y="546.12" width="9.95" height="13.8" fill="#e3dfe1"/>
<rect x="280.37" y="546.12" width="9.95" height="13.8" fill="#e3dfe1"/>
<rect x="290.77" y="546.12" width="9.95" height="13.8" fill="#e3dfe1"/>
<rect x="301.17" y="546.12" width="9.95" height="13.8" fill="#e3dfe1"/>
<rect x="311.56" y="546.12" width="9.95" height="13.8" fill="#e3dfe1"/>
<rect x="321.96" y="546.12" width="9.95" height="13.8" fill="#e3dfe1"/>
<rect x="332.36" y="546.12" width="9.95" height="13.8" fill="#e3dfe1"/>
<rect x="342.75" y="546.12" width="9.95" height="13.8" fill="#e3dfe1"/>
<rect x="353.15" y="546.12" width="9.95" height="13.8" fill="#e3dfe1"/>
<rect x="363.55" y="546.12" width="9.95" height="13.8" fill="#e3dfe1"/>
<rect x="373.95" y="546.12" width="9.95" height="13.8" fill="#e3dfe1"/>
<rect x="384.34" y="546.12" width="9.95" height="13.8" fill="#e3dfe1"/>
<rect x="394.74" y="546.12" width="9.95" height="13.8" fill="#e3dfe1"/>
<rect x="405.14" y="546.12" width="9.95" height="13.8" fill="#e3dfe1"/>
<rect x="415.53" y="546.12" width="9.95" height="13.8" fill="#e3dfe1"/>
<rect x="425.93" y="546.12" width="9.95" height="13.8" fill="#e3dfe1"/>
<rect x="436.73" y="546.52" width="9.15" height="13" fill="#c13b7b" stroke="#a9336c" stroke-width="0.8"/>
<rect x="446.73" y="546.12" width="9.95" height="13.8" fill="#e3dfe1"/>
<rect x="457.12" y="546.12" width="9.95" height="13.8" fill="#e3dfe1"/>
<rect x="467.52" y="546.12" width="9.95" height="13.8" fill="#e3dfe1"/>
<rect x="477.92" y="546.12" width="9.95" height="13.8" fill="#e3dfe1"/>
<rect x="488.31" y="546.12" width="9.95" height="13.8" fill="#e3dfe1"/>
<rect x="498.71" y="546.12" width="9.95" height="13.8" fill="#e3dfe1"/>
<rect x="186.8" y="560.54" width="9.95" height="13.8" fill="#e3dfe1"/>
<rect x="197.2" y="560.54" width="9.95" height="13.8" fill="#e3dfe1"/>
<rect x="207.59" y="560.54" width="9.95" height="13.8" fill="#e3dfe1"/>
<rect x="217.99" y="560.54" width="9.95" height="13.8" fill="#e3dfe1"/>
<rect x="228.39" y="560.54" width="9.95" height="13.8" fill="#e3dfe1"/>
<rect x="238.79" y="560.54" width="9.95" height="13.8" fill="#e3dfe1"/>
<rect x="249.18" y="560.54" width="9.95" height="13.8" fill="#e3dfe1"/>
<rect x="259.58" y="560.54" width="9.95" height="13.8" fill="#e3dfe1"/>
<rect x="269.98" y="560.54" width="9.95" height="13.8" fill="#e3dfe1"/>
<rect x="280.37" y="560.54" width="9.95" height="13.8" fill="#e3dfe1"/>
<rect x="290.77" y="560.54" width="9.95" height="13.8" fill="#e3dfe1"/>
<rect x="301.17" y="560.54" width="9.95" height="13.8" fill="#e3dfe1"/>
<rect x="311.56" y="560.54" width="9.95" height="13.8" fill="#e3dfe1"/>
<rect x="321.96" y="560.54" width="9.95" height="13.8" fill="#e3dfe1"/>
<rect x="332.36" y="560.54" width="9.95" height="13.8" fill="#e3dfe1"/>
<rect x="342.75" y="560.54" width="9.95" height="13.8" fill="#e3dfe1"/>
<rect x="353.15" y="560.54" width="9.95" height="13.8" fill="#e3dfe1"/>
<rect x="363.55" y="560.54" width="9.95" height="13.8" fill="#e3dfe1"/>
<rect x="373.95" y="560.54" width="9.95" height="13.8" fill="#e3dfe1"/>
<rect x="384.34" y="560.54" width="9.95" height="13.8" fill="#e3dfe1"/>
<rect x="394.74" y="560.54" width="9.95" height="13.8" fill="#e3dfe1"/>
<rect x="405.14" y="560.54" width="9.95" height="13.8" fill="#e3dfe1"/>
<rect x="415.53" y="560.54" width="9.95" height="13.8" fill="#e3dfe1"/>
<rect x="425.93" y="560.54" width="9.95" height="13.8" fill="#e3dfe1"/>
<rect x="436.73" y="560.94" width="9.15" height="13" fill="#76a9d1" stroke="#6794b7" stroke-width="0.8"/>
<rect x="446.73" y="560.54" width="9.95" height="13.8" fill="#e3dfe1"/>
<rect x="457.12" y="560.54" width="9.95" height="13.8" fill="#e3dfe1"/>
<rect x="467.52" y="560.54" width="9.95" height="13.8" fill="#e3dfe1"/>
<rect x="477.92" y="560.54" width="9.95" height="13.8" fill="#e3dfe1"/>
<rect x="488.31" y="560.54" width="9.95" height="13.8" fill="#e3dfe1"/>
<rect x="498.71" y="560.54" width="9.95" height="13.8" fill="#e3dfe1"/>
<rect x="186.8" y="574.96" width="9.95" height="13.8" fill="#e3dfe1"/>
<rect x="197.2" y="574.96" width="9.95" height="13.8" fill="#e3dfe1"/>
<rect x="207.59" y="574.96" width="9.95" height="13.8" fill="#e3dfe1"/>
<rect x="217.99" y="574.96" width="9.95" height="13.8" fill="#e3dfe1"/>
<rect x="228.39" y="574.96" width="9.95" height="13.8" fill="#e3dfe1"/>
<rect x="238.79" y="574.96" width="9.95" height="13.8" fill="#e3dfe1"/>
<rect x="249.18" y="574.96" width="9.95" height="13.8" fill="#e3dfe1"/>
<rect x="259.58" y="574.96" width="9.95" height="13.8" fill="#e3dfe1"/>
<rect x="269.98" y="574.96" width="9.95" height="13.8" fill="#e3dfe1"/>
<rect x="280.37" y="574.96" width="9.95" height="13.8" fill="#e3dfe1"/>
<rect x="290.77" y="574.96" width="9.95" height="13.8" fill="#e3dfe1"/>
<rect x="301.17" y="574.96" width="9.95" height="13.8" fill="#e3dfe1"/>
<rect x="311.56" y="574.96" width="9.95" height="13.8" fill="#e3dfe1"/>
<rect x="321.96" y="574.96" width="9.95" height="13.8" fill="#e3dfe1"/>
<rect x="332.36" y="574.96" width="9.95" height="13.8" fill="#e3dfe1"/>
<rect x="342.75" y="574.96" width="9.95" height="13.8" fill="#e3dfe1"/>
<rect x="353.15" y="574.96" width="9.95" height="13.8" fill="#e3dfe1"/>
<rect x="363.55" y="574.96" width="9.95" height="13.8" fill="#e3dfe1"/>
<rect x="373.95" y="574.96" width="9.95" height="13.8" fill="#e3dfe1"/>
<rect x="384.34" y="574.96" width="9.95" height="13.8" fill="#e3dfe1"/>
<rect x="394.74" y="574.96" width="9.95" height="13.8" fill="#e3dfe1"/>
<rect x="405.14" y="574.96" width="9.95" height="13.8" fill="#e3dfe1"/>
<rect x="415.53" y="574.96" width="9.95" height="13.8" fill="#e3dfe1"/>
<rect x="425.93" y="574.96" width="9.95" height="13.8" fill="#e3dfe1"/>
<rect x="436.33" y="574.96" width="9.95" height="13.8" fill="#e3dfe1"/>
<rect x="447.12" y="575.36" width="9.15" height="13" fill="#76a9d1" stroke="#6794b7" stroke-width="0.8"/>
<rect x="457.12" y="574.96" width="9.95" height="13.8" fill="#e3dfe1"/>
<rect x="467.52" y="574.96" width="9.95" height="13.8" fill="#e3dfe1"/>
<rect x="477.92" y="574.96" width="9.95" height="13.8" fill="#e3dfe1"/>
<rect x="488.31" y="574.96" width="9.95" height="13.8" fill="#e3dfe1"/>
<rect x="498.71" y="574.96" width="9.95" height="13.8" fill="#e3dfe1"/>
<rect x="186.8" y="589.38" width="9.95" height="13.8" fill="#e3dfe1"/>
<rect x="197.2" y="589.38" width="9.95" height="13.8" fill="#e3dfe1"/>
<rect x="207.59" y="589.38" width="9.95" height="13.8" fill="#e3dfe1"/>
<rect x="217.99" y="589.38" width="9.95" height="13.8" fill="#e3dfe1"/>
<rect x="228.39" y="589.38" width="9.95" height="13.8" fill="#e3dfe1"/>
<rect x="238.79" y="589.38" width="9.95" height="13.8" fill="#e3dfe1"/>
<rect x="249.18" y="589.38" width="9.95" height="13.8" fill="#e3dfe1"/>
<rect x="259.58" y="589.38" width="9.95" height="13.8" fill="#e3dfe1"/>
<rect x="269.98" y="589.38" width="9.95" height="13.8" fill="#e3dfe1"/>
<rect x="280.37" y="589.38" width="9.95" height="13.8" fill="#e3dfe1"/>
<rect x="290.77" y="589.38" width="9.95" height="13.8" fill="#e3dfe1"/>
<rect x="301.17" y="589.38" width="9.95" height="13.8" fill="#e3dfe1"/>
<rect x="311.56" y="589.38" width="9.95" height="13.8" fill="#e3dfe1"/>
<rect x="321.96" y="589.38" width="9.95" height="13.8" fill="#e3dfe1"/>
<rect x="332.36" y="589.38" width="9.95" height="13.8" fill="#e3dfe1"/>
<rect x="342.75" y="589.38" width="9.95" height="13.8" fill="#e3dfe1"/>
<rect x="353.15" y="589.38" width="9.95" height="13.8" fill="#e3dfe1"/>
<rect x="363.55" y="589.38" width="9.95" height="13.8" fill="#e3dfe1"/>
<rect x="373.95" y="589.38" width="9.95" height="13.8" fill="#e3dfe1"/>
<rect x="384.34" y="589.38" width="9.95" height="13.8" fill="#e3dfe1"/>
<rect x="395.14" y="589.78" width="9.15" height="13" fill="#9c93b6" stroke="#8981a0" stroke-width="0.8"/>
<rect x="405.14" y="589.38" width="9.95" height="13.8" fill="#e3dfe1"/>
<rect x="415.53" y="589.38" width="9.95" height="13.8" fill="#e3dfe1"/>
<rect x="425.93" y="589.38" width="9.95" height="13.8" fill="#e3dfe1"/>
<rect x="436.33" y="589.38" width="9.95" height="13.8" fill="#e3dfe1"/>
<rect x="446.73" y="589.38" width="9.95" height="13.8" fill="#e3dfe1"/>
<rect x="457.12" y="589.38" width="9.95" height="13.8" fill="#e3dfe1"/>
<rect x="467.52" y="589.38" width="9.95" height="13.8" fill="#e3dfe1"/>
<rect x="477.92" y="589.38" width="9.95" height="13.8" fill="#e3dfe1"/>
<rect x="488.31" y="589.38" width="9.95" height="13.8" fill="#e3dfe1"/>
<rect x="498.71" y="589.38" width="9.95" height="13.8" fill="#e3dfe1"/>
<rect x="186.8" y="603.8" width="9.95" height="13.8" fill="#e3dfe1"/>
<rect x="197.2" y="603.8" width="9.95" height="13.8" fill="#e3dfe1"/>
<rect x="207.59" y="603.8" width="9.95" height="13.8" fill="#e3dfe1"/>
<rect x="217.99" y="603.8" width="9.95" height="13.8" fill="#e3dfe1"/>
<rect x="228.39" y="603.8" width="9.95" height="13.8" fill="#e3dfe1"/>
<rect x="238.79" y="603.8" width="9.95" height="13.8" fill="#e3dfe1"/>
<rect x="249.18" y="603.8" width="9.95" height="13.8" fill="#e3dfe1"/>
<rect x="259.58" y="603.8" width="9.95" height="13.8" fill="#e3dfe1"/>
<rect x="269.98" y="603.8" width="9.95" height="13.8" fill="#e3dfe1"/>
<rect x="280.37" y="603.8" width="9.95" height="13.8" fill="#e3dfe1"/>
<rect x="290.77" y="603.8" width="9.95" height="13.8" fill="#e3dfe1"/>
<rect x="301.17" y="603.8" width="9.95" height="13.8" fill="#e3dfe1"/>
<rect x="311.56" y="603.8" width="9.95" height="13.8" fill="#e3dfe1"/>
<rect x="321.96" y="603.8" width="9.95" height="13.8" fill="#e3dfe1"/>
<rect x="332.36" y="603.8" width="9.95" height="13.8" fill="#e3dfe1"/>
<rect x="342.75" y="603.8" width="9.95" height="13.8" fill="#e3dfe1"/>
<rect x="353.15" y="603.8" width="9.95" height="13.8" fill="#e3dfe1"/>
<rect x="363.55" y="603.8" width="9.95" height="13.8" fill="#e3dfe1"/>
<rect x="373.95" y="603.8" width="9.95" height="13.8" fill="#e3dfe1"/>
<rect x="384.34" y="603.8" width="9.95" height="13.8" fill="#e3dfe1"/>
<rect x="394.74" y="603.8" width="9.95" height="13.8" fill="#e3dfe1"/>
<rect x="405.14" y="603.8" width="9.95" height="13.8" fill="#e3dfe1"/>
<rect x="415.53" y="603.8" width="9.95" height="13.8" fill="#e3dfe1"/>
<rect x="425.93" y="603.8" width="9.95" height="13.8" fill="#e3dfe1"/>
<rect x="436.33" y="603.8" width="9.95" height="13.8" fill="#e3dfe1"/>
<rect x="446.73" y="603.8" width="9.95" height="13.8" fill="#e3dfe1"/>
<rect x="457.52" y="604.2" width="9.15" height="13" fill="#76a9d1" stroke="#6794b7" stroke-width="0.8"/>
<rect x="467.52" y="603.8" width="9.95" height="13.8" fill="#e3dfe1"/>
<rect x="477.92" y="603.8" width="9.95" height="13.8" fill="#e3dfe1"/>
<rect x="488.31" y="603.8" width="9.95" height="13.8" fill="#e3dfe1"/>
<rect x="498.71" y="603.8" width="9.95" height="13.8" fill="#e3dfe1"/>
<rect x="105.95" y="56.2" width="1.7" height="227.6" fill="#111"/>
<rect x="105.95" y="288.1" width="1.7" height="97.7" fill="#111"/>
<rect x="105.95" y="388.9" width="1.7" height="55" fill="#111"/>
<rect x="105.95" y="446.1" width="1.7" height="26.6" fill="#111"/>
<rect x="105.95" y="475.1" width="1.7" height="142.4" fill="#111"/>
<text x="144.69" y="37.7" textLength="36.65" lengthAdjust="spacingAndGlyphs">Cohort</text>
<text x="138.33" y="52.12" textLength="43.24" lengthAdjust="spacingAndGlyphs">HAVCR2</text>
<text x="156.09" y="66.54" textLength="25.48" lengthAdjust="spacingAndGlyphs">TET2</text>
<text x="151.04" y="80.96" textLength="30.44" lengthAdjust="spacingAndGlyphs">CHD3</text>
<text x="151.04" y="95.38" textLength="30.32" lengthAdjust="spacingAndGlyphs">CHD4</text>
<text x="143.1" y="109.8" textLength="38.66" lengthAdjust="spacingAndGlyphs">ARID1B</text>
<text x="129.66" y="124.22" textLength="51.91" lengthAdjust="spacingAndGlyphs">SMARCA4</text>
<text x="154" y="138.64" textLength="27.44" lengthAdjust="spacingAndGlyphs">SPEN</text>
<text x="151.06" y="153.06" textLength="30.46" lengthAdjust="spacingAndGlyphs">BCOR</text>
<text x="143.76" y="167.48" textLength="36.67" lengthAdjust="spacingAndGlyphs">NCOR1</text>
<text x="145.6" y="181.9" textLength="35.69" lengthAdjust="spacingAndGlyphs">BAZ2A</text>
<text x="145.61" y="196.32" textLength="35.96" lengthAdjust="spacingAndGlyphs">DOT1L</text>
<text x="140.1" y="210.74" textLength="40.92" lengthAdjust="spacingAndGlyphs">CREBBP</text>
<text x="142.98" y="225.16" textLength="38.78" lengthAdjust="spacingAndGlyphs">KMT2D</text>
<text x="144.51" y="239.58" textLength="37.09" lengthAdjust="spacingAndGlyphs">KMT2B</text>
<text x="144.54" y="254" textLength="36.38" lengthAdjust="spacingAndGlyphs">KMT2C</text>
<text x="141.56" y="268.42" textLength="39.87" lengthAdjust="spacingAndGlyphs">SAP130</text>
<text x="148.8" y="282.84" textLength="32.25" lengthAdjust="spacingAndGlyphs">ASXL1</text>
<text x="155.91" y="297.26" textLength="24.74" lengthAdjust="spacingAndGlyphs">TSC1</text>
<text x="155.9" y="311.68" textLength="25.36" lengthAdjust="spacingAndGlyphs">TSC2</text>
<text x="149.32" y="326.1" textLength="32.09" lengthAdjust="spacingAndGlyphs">MTOR</text>
<text x="143.04" y="340.52" textLength="38.24" lengthAdjust="spacingAndGlyphs">PIK3CA</text>
<text x="142.42" y="354.94" textLength="39.65" lengthAdjust="spacingAndGlyphs">PIK3CD</text>
<text x="143.44" y="369.36" textLength="38.17" lengthAdjust="spacingAndGlyphs">PIK3CB</text>
<text x="148" y="383.78" textLength="32.68" lengthAdjust="spacingAndGlyphs">FGFR1</text>
<text x="156.69" y="398.2" textLength="24.72" lengthAdjust="spacingAndGlyphs">JAK3</text>
<text x="148.3" y="412.62" textLength="32.78" lengthAdjust="spacingAndGlyphs">CSF1R</text>
<text x="158.54" y="427.04" textLength="22.52" lengthAdjust="spacingAndGlyphs">IL7R</text>
<text x="150.88" y="441.46" textLength="30.56" lengthAdjust="spacingAndGlyphs">STAT3</text>
<text x="144.48" y="455.88" textLength="37.02" lengthAdjust="spacingAndGlyphs">DHX29</text>
<text x="140.26" y="470.3" textLength="41.23" lengthAdjust="spacingAndGlyphs">ZNF326</text>
<text x="147.79" y="484.72" textLength="33.21" lengthAdjust="spacingAndGlyphs">SYNE1</text>
<text x="152.48" y="499.14" textLength="29.07" lengthAdjust="spacingAndGlyphs">NAV3</text>
<text x="149.68" y="513.56" textLength="31.87" lengthAdjust="spacingAndGlyphs">MSH6</text>
<text x="154.8" y="527.98" textLength="26.12" lengthAdjust="spacingAndGlyphs">PER1</text>
<text x="139.76" y="542.4" textLength="41.87" lengthAdjust="spacingAndGlyphs">RECQL4</text>
<text x="151.59" y="556.82" textLength="30.24" lengthAdjust="spacingAndGlyphs">FADD</text>
<text x="147.2" y="571.24" textLength="33.78" lengthAdjust="spacingAndGlyphs">AP2A1</text>
<text x="140.3" y="585.66" textLength="41.25" lengthAdjust="spacingAndGlyphs">AKAP12</text>
<text x="151.37" y="600.08" textLength="30.45" lengthAdjust="spacingAndGlyphs">SUCO</text>
<text x="157.19" y="614.5" textLength="24.57" lengthAdjust="spacingAndGlyphs">WAS</text>
<text x="28.55" y="166.9" textLength="55.3" lengthAdjust="spacingAndGlyphs">Epigenetic</text>
<text x="32.25" y="181.5" textLength="48.99" lengthAdjust="spacingAndGlyphs">modifiers</text>
<text x="14.31" y="332.8" textLength="84.7" lengthAdjust="spacingAndGlyphs">PI3K/AKT/mTOR</text>
<text x="34.07" y="348.1" textLength="44.29" lengthAdjust="spacingAndGlyphs">pathway</text>
<text x="32.59" y="412.8" textLength="47.61" lengthAdjust="spacingAndGlyphs">JAK/STAT</text>
<text x="34.07" y="428.1" textLength="44.29" lengthAdjust="spacingAndGlyphs">pathway</text>
<text x="44.63" y="456" textLength="23.09" lengthAdjust="spacingAndGlyphs">RNA</text>
<text x="24.94" y="470.4" textLength="62.52" lengthAdjust="spacingAndGlyphs">metabolism</text>
<text x="38.5" y="550.7" textLength="35.99" lengthAdjust="spacingAndGlyphs">Others</text>
<text x="114.83" y="637.6" textLength="34.1" lengthAdjust="spacingAndGlyphs">Cohort</text>
<text x="124.99" y="651.6" textLength="48.49" lengthAdjust="spacingAndGlyphs">This study</text>
<text x="124.66" y="664.8" textLength="60.44" lengthAdjust="spacingAndGlyphs">Li et al. 2018</text>
<text x="234.6" y="638.1" textLength="39.72" lengthAdjust="spacingAndGlyphs">HAVCR2</text>
<text x="234.34" y="652.3" textLength="92.26" lengthAdjust="spacingAndGlyphs">germline mutation</text>
<text x="244" y="664.9" textLength="65.6" lengthAdjust="spacingAndGlyphs">Homozygous</text>
<text x="244.01" y="678.1" textLength="68.74" lengthAdjust="spacingAndGlyphs">Heterozygous</text>
<text x="244.49" y="691.3" textLength="47.2" lengthAdjust="spacingAndGlyphs">Wild type</text>
<text x="243.98" y="704.6" textLength="52.2" lengthAdjust="spacingAndGlyphs">Not tested</text>
<text x="381.13" y="637.5" textLength="87.92" lengthAdjust="spacingAndGlyphs">Somatic mutation</text>
<text x="390.35" y="651.8" textLength="48.11" lengthAdjust="spacingAndGlyphs">Nonsense</text>
<text x="390.3" y="665.1" textLength="95.31" lengthAdjust="spacingAndGlyphs">Frameshift deletion</text>
<text x="390.3" y="678.5" textLength="98.48" lengthAdjust="spacingAndGlyphs">Frameshift insertion</text>
<text x="390.39" y="691.7" textLength="84.53" lengthAdjust="spacingAndGlyphs">In-frame deletion</text>
<text x="390.35" y="705.3" textLength="45.12" lengthAdjust="spacingAndGlyphs">Missense</text>
<text x="390.67" y="718.6" textLength="48.74" lengthAdjust="spacingAndGlyphs">Splice site</text>
<text x="391.09" y="731.9" textLength="45.99" lengthAdjust="spacingAndGlyphs">Wild type</text>
<rect x="114.9" y="645.1" width="5.6" height="5.5" fill="#e6b741"/>
<rect x="114.9" y="658.7" width="5.6" height="5.5" fill="#507664"/>
<rect x="234.9" y="658.9" width="5.1" height="5.1" fill="#4e6382"/>
<rect x="234.9" y="672.1" width="5.1" height="5.1" fill="#a13543"/>
<rect x="234.9" y="685.3" width="5.1" height="5.1" fill="#cbc5c8"/>
<rect x="235.1" y="699.1" width="4.3" height="4.4" fill="#fff" stroke="#111" stroke-width="1.1"/>
<rect x="381.2" y="645.1" width="5.6" height="5.6" fill="#c13b7b"/>
<rect x="381.2" y="658.7" width="5.6" height="5.6" fill="#9c93b6"/>
<rect x="381.2" y="672.2" width="5.6" height="5.6" fill="#d6963d"/>
<rect x="381.2" y="685.7" width="5.6" height="5.6" fill="#7aa95b"/>
<rect x="381.2" y="699.1" width="5.6" height="5.6" fill="#76a9d1"/>
<rect x="381.2" y="712.5" width="5.6" height="5.6" fill="#686b74"/>
<rect x="381.2" y="725.8" width="5.6" height="5.6" fill="#e3dfe1"/>
<rect x="367.2" y="725.8" width="5.6" height="5.6" fill="#cbc5c8"/>
<rect x="191.0" y="13.4" width="1.0" height="9.0" fill="#231f20"/>
<rect x="188.9" y="15.9" width="5.0" height="1.0" fill="#231f20"/>
<line x1="482.70" y1="18.70" x2="482.70" y2="23.50" stroke="#2a2a2a" stroke-width="0.85"/>
<line x1="480.62" y1="19.90" x2="484.78" y2="22.30" stroke="#2a2a2a" stroke-width="0.85"/>
<line x1="484.78" y1="19.90" x2="480.62" y2="22.30" stroke="#2a2a2a" stroke-width="0.85"/>
<rect x="2" y="0.5" width="517" height="1.5" fill="#000"/>
<rect x="0.5" y="0.5" width="1.5" height="745" fill="#000"/>
<rect x="518" y="0.5" width="1.8" height="746" fill="#000"/>
<rect x="0" y="744" width="520" height="2" fill="#000"/>
</svg>
</body></html>
